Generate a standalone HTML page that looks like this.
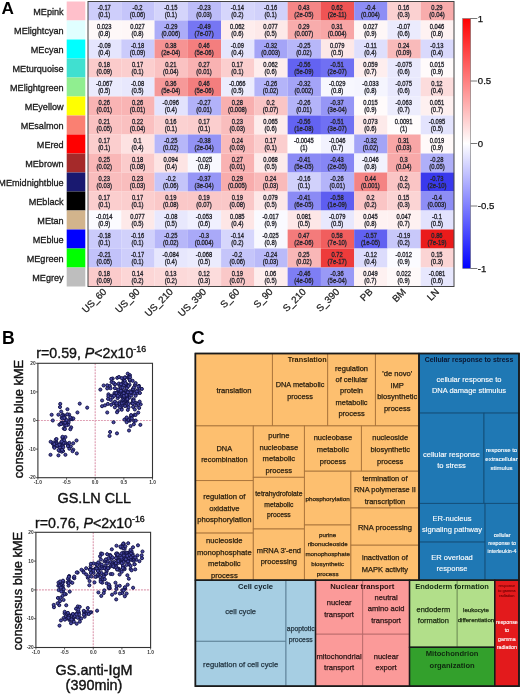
<!DOCTYPE html>
<html><head><meta charset="utf-8"><style>
html,body{margin:0;padding:0;background:#fff;}
svg{display:block;filter:blur(0.3px);}
text{font-family:"Liberation Sans", sans-serif;fill:#222;}
.big{font-size:16.5px;font-weight:bold;fill:#000;}
.rl{font-size:9.9px;text-anchor:end;fill:#1a1a1a;stroke:#1a1a1a;stroke-width:0.32px;}
.hv{font-size:6.9px;text-anchor:middle;fill:#26262e;stroke:#26262e;stroke-width:0.32px;}
.cl{font-size:9.7px;text-anchor:end;fill:#222;stroke:#222;stroke-width:0.25px;}
.tl{font-size:9.6px;fill:#111;stroke:#111;stroke-width:0.25px;}
.tk{font-size:4.8px;font-weight:bold;fill:#333;}
.tt{font-size:14.2px;fill:#111;stroke:#111;stroke-width:0.35px;}
.al{font-size:14.4px;fill:#111;stroke:#111;stroke-width:0.4px;}
.al2{font-size:12.0px;fill:#111;stroke:#111;stroke-width:0.4px;}
circle{fill:#4a4aa6;stroke:#121245;stroke-width:0.95;}
.tm{text-anchor:middle;fill:#2b2b2b;stroke:#2b2b2b;stroke-width:0.25px;}
.tw{text-anchor:middle;fill:#fff;stroke:#fff;stroke-width:0.12px;}
.gh{text-anchor:middle;font-weight:bold;}
</style></head><body>
<svg width="520" height="694" viewBox="0 0 520 694">
<rect width="520" height="694" fill="#fff"/>
<text x="1.6" y="13.9" class="big" style="font-size:17.2px">A</text>
<text transform="translate(63.6,14.60) scale(0.92,1)" class="rl">MEpink</text>
<rect x="66.7" y="1.50" width="18.6" height="19.0" fill="#ffc0cb"/>
<rect x="88.00" y="1.50" width="33.32" height="19.05" fill="rgb(206,206,251)"/>
<text transform="translate(104.24,9.80) scale(0.84,1)" class="hv">-0.17</text>
<text transform="translate(104.24,17.00) scale(0.86,1)" class="hv">(0.1)</text>
<rect x="121.27" y="1.50" width="33.32" height="19.05" fill="rgb(197,197,250)"/>
<text transform="translate(137.51,9.80) scale(0.84,1)" class="hv">-0.2</text>
<text transform="translate(137.51,17.00) scale(0.86,1)" class="hv">(0.06)</text>
<rect x="154.55" y="1.50" width="33.32" height="19.05" fill="rgb(212,212,251)"/>
<text transform="translate(170.78,9.80) scale(0.84,1)" class="hv">-0.15</text>
<text transform="translate(170.78,17.00) scale(0.86,1)" class="hv">(0.1)</text>
<rect x="187.82" y="1.50" width="33.32" height="19.05" fill="rgb(189,189,249)"/>
<text transform="translate(204.05,9.80) scale(0.84,1)" class="hv">-0.23</text>
<text transform="translate(204.05,17.00) scale(0.86,1)" class="hv">(0.03)</text>
<rect x="221.09" y="1.50" width="33.32" height="19.05" fill="rgb(214,214,252)"/>
<text transform="translate(237.33,9.80) scale(0.84,1)" class="hv">-0.14</text>
<text transform="translate(237.33,17.00) scale(0.86,1)" class="hv">(0.2)</text>
<rect x="254.36" y="1.50" width="33.32" height="19.05" fill="rgb(209,209,251)"/>
<text transform="translate(270.60,9.80) scale(0.84,1)" class="hv">-0.16</text>
<text transform="translate(270.60,17.00) scale(0.86,1)" class="hv">(0.1)</text>
<rect x="287.64" y="1.50" width="33.32" height="19.05" fill="rgb(245,134,134)"/>
<text transform="translate(303.87,9.80) scale(0.84,1)" class="hv">0.43</text>
<text transform="translate(303.87,17.00) scale(0.86,1)" class="hv">(2e-05)</text>
<rect x="320.91" y="1.50" width="33.32" height="19.05" fill="rgb(240,84,84)"/>
<text transform="translate(337.15,9.80) scale(0.84,1)" class="hv">0.62</text>
<text transform="translate(337.15,17.00) scale(0.86,1)" class="hv">(2e-11)</text>
<rect x="354.18" y="1.50" width="33.32" height="19.05" fill="rgb(142,142,245)"/>
<text transform="translate(370.42,9.80) scale(0.84,1)" class="hv">-0.4</text>
<text transform="translate(370.42,17.00) scale(0.86,1)" class="hv">(0.004)</text>
<rect x="387.45" y="1.50" width="33.32" height="19.05" fill="rgb(251,209,209)"/>
<text transform="translate(403.69,9.80) scale(0.84,1)" class="hv">0.16</text>
<text transform="translate(403.69,17.00) scale(0.86,1)" class="hv">(0.3)</text>
<rect x="420.73" y="1.50" width="33.32" height="19.05" fill="rgb(248,172,172)"/>
<text transform="translate(436.96,9.80) scale(0.84,1)" class="hv">0.29</text>
<text transform="translate(436.96,17.00) scale(0.86,1)" class="hv">(0.04)</text>
<text transform="translate(63.6,33.60) scale(0.92,1)" class="rl">MElightcyan</text>
<rect x="66.7" y="20.50" width="18.6" height="19.0" fill="#e0ffff"/>
<rect x="88.00" y="20.50" width="33.32" height="19.05" fill="rgb(254,248,248)"/>
<text transform="translate(104.24,28.80) scale(0.84,1)" class="hv">0.023</text>
<text transform="translate(104.24,36.00) scale(0.86,1)" class="hv">(0.8)</text>
<rect x="121.27" y="20.50" width="33.32" height="19.05" fill="rgb(254,247,247)"/>
<text transform="translate(137.51,28.80) scale(0.84,1)" class="hv">0.027</text>
<text transform="translate(137.51,36.00) scale(0.86,1)" class="hv">(0.8)</text>
<rect x="154.55" y="20.50" width="33.32" height="19.05" fill="rgb(172,172,248)"/>
<text transform="translate(170.78,28.80) scale(0.84,1)" class="hv">-0.29</text>
<text transform="translate(170.78,36.00) scale(0.86,1)" class="hv">(0.006)</text>
<rect x="187.82" y="20.50" width="33.32" height="19.05" fill="rgb(118,118,243)"/>
<text transform="translate(204.05,28.80) scale(0.84,1)" class="hv">-0.49</text>
<text transform="translate(204.05,36.00) scale(0.86,1)" class="hv">(7e-07)</text>
<rect x="221.09" y="20.50" width="33.32" height="19.05" fill="rgb(254,237,237)"/>
<text transform="translate(237.33,28.80) scale(0.84,1)" class="hv">0.062</text>
<text transform="translate(237.33,36.00) scale(0.86,1)" class="hv">(0.6)</text>
<rect x="254.36" y="20.50" width="33.32" height="19.05" fill="rgb(253,233,233)"/>
<text transform="translate(270.60,28.80) scale(0.84,1)" class="hv">0.077</text>
<text transform="translate(270.60,36.00) scale(0.86,1)" class="hv">(0.5)</text>
<rect x="287.64" y="20.50" width="33.32" height="19.05" fill="rgb(248,172,172)"/>
<text transform="translate(303.87,28.80) scale(0.84,1)" class="hv">0.29</text>
<text transform="translate(303.87,36.00) scale(0.86,1)" class="hv">(0.007)</text>
<rect x="320.91" y="20.50" width="33.32" height="19.05" fill="rgb(248,166,166)"/>
<text transform="translate(337.15,28.80) scale(0.84,1)" class="hv">0.31</text>
<text transform="translate(337.15,36.00) scale(0.86,1)" class="hv">(0.004)</text>
<rect x="354.18" y="20.50" width="33.32" height="19.05" fill="rgb(254,247,247)"/>
<text transform="translate(370.42,28.80) scale(0.84,1)" class="hv">0.027</text>
<text transform="translate(370.42,36.00) scale(0.86,1)" class="hv">(0.9)</text>
<rect x="387.45" y="20.50" width="33.32" height="19.05" fill="rgb(235,235,253)"/>
<text transform="translate(403.69,28.80) scale(0.84,1)" class="hv">-0.07</text>
<text transform="translate(403.69,36.00) scale(0.86,1)" class="hv">(0.6)</text>
<rect x="420.73" y="20.50" width="33.32" height="19.05" fill="rgb(254,242,242)"/>
<text transform="translate(436.96,28.80) scale(0.84,1)" class="hv">0.046</text>
<text transform="translate(436.96,36.00) scale(0.86,1)" class="hv">(0.8)</text>
<text transform="translate(63.6,52.60) scale(0.92,1)" class="rl">MEcyan</text>
<rect x="66.7" y="39.50" width="18.6" height="19.0" fill="#00ffff"/>
<rect x="88.00" y="39.50" width="33.32" height="19.05" fill="rgb(229,229,253)"/>
<text transform="translate(104.24,47.80) scale(0.84,1)" class="hv">-0.09</text>
<text transform="translate(104.24,55.00) scale(0.86,1)" class="hv">(0.4)</text>
<rect x="121.27" y="39.50" width="33.32" height="19.05" fill="rgb(203,203,251)"/>
<text transform="translate(137.51,47.80) scale(0.84,1)" class="hv">-0.18</text>
<text transform="translate(137.51,55.00) scale(0.86,1)" class="hv">(0.09)</text>
<rect x="154.55" y="39.50" width="33.32" height="19.05" fill="rgb(246,147,147)"/>
<text transform="translate(170.78,47.80) scale(0.84,1)" class="hv">0.38</text>
<text transform="translate(170.78,55.00) scale(0.86,1)" class="hv">(2e-04)</text>
<rect x="187.82" y="39.50" width="33.32" height="19.05" fill="rgb(244,126,126)"/>
<text transform="translate(204.05,47.80) scale(0.84,1)" class="hv">0.46</text>
<text transform="translate(204.05,55.00) scale(0.86,1)" class="hv">(5e-06)</text>
<rect x="221.09" y="39.50" width="33.32" height="19.05" fill="rgb(229,229,253)"/>
<text transform="translate(237.33,47.80) scale(0.84,1)" class="hv">-0.09</text>
<text transform="translate(237.33,55.00) scale(0.86,1)" class="hv">(0.4)</text>
<rect x="254.36" y="39.50" width="33.32" height="19.05" fill="rgb(164,164,247)"/>
<text transform="translate(270.60,47.80) scale(0.84,1)" class="hv">-0.32</text>
<text transform="translate(270.60,55.00) scale(0.86,1)" class="hv">(0.003)</text>
<rect x="287.64" y="39.50" width="33.32" height="19.05" fill="rgb(183,183,249)"/>
<text transform="translate(303.87,47.80) scale(0.84,1)" class="hv">-0.25</text>
<text transform="translate(303.87,55.00) scale(0.86,1)" class="hv">(0.02)</text>
<rect x="320.91" y="39.50" width="33.32" height="19.05" fill="rgb(253,232,232)"/>
<text transform="translate(337.15,47.80) scale(0.84,1)" class="hv">0.079</text>
<text transform="translate(337.15,55.00) scale(0.86,1)" class="hv">(0.5)</text>
<rect x="354.18" y="39.50" width="33.32" height="19.05" fill="rgb(223,223,252)"/>
<text transform="translate(370.42,47.80) scale(0.84,1)" class="hv">-0.11</text>
<text transform="translate(370.42,55.00) scale(0.86,1)" class="hv">(0.4)</text>
<rect x="387.45" y="39.50" width="33.32" height="19.05" fill="rgb(249,186,186)"/>
<text transform="translate(403.69,47.80) scale(0.84,1)" class="hv">0.24</text>
<text transform="translate(403.69,55.00) scale(0.86,1)" class="hv">(0.09)</text>
<rect x="420.73" y="39.50" width="33.32" height="19.05" fill="rgb(217,217,252)"/>
<text transform="translate(436.96,47.80) scale(0.84,1)" class="hv">-0.13</text>
<text transform="translate(436.96,55.00) scale(0.86,1)" class="hv">(0.4)</text>
<text transform="translate(63.6,71.60) scale(0.92,1)" class="rl">MEturquoise</text>
<rect x="66.7" y="58.50" width="18.6" height="19.0" fill="#40e0d0"/>
<rect x="88.00" y="58.50" width="33.32" height="19.05" fill="rgb(251,203,203)"/>
<text transform="translate(104.24,66.80) scale(0.84,1)" class="hv">0.18</text>
<text transform="translate(104.24,74.00) scale(0.86,1)" class="hv">(0.09)</text>
<rect x="121.27" y="58.50" width="33.32" height="19.05" fill="rgb(251,206,206)"/>
<text transform="translate(137.51,66.80) scale(0.84,1)" class="hv">0.17</text>
<text transform="translate(137.51,74.00) scale(0.86,1)" class="hv">(0.1)</text>
<rect x="154.55" y="58.50" width="33.32" height="19.05" fill="rgb(250,194,194)"/>
<text transform="translate(170.78,66.80) scale(0.84,1)" class="hv">0.21</text>
<text transform="translate(170.78,74.00) scale(0.86,1)" class="hv">(0.04)</text>
<rect x="187.82" y="58.50" width="33.32" height="19.05" fill="rgb(249,178,178)"/>
<text transform="translate(204.05,66.80) scale(0.84,1)" class="hv">0.27</text>
<text transform="translate(204.05,74.00) scale(0.86,1)" class="hv">(0.01)</text>
<rect x="221.09" y="58.50" width="33.32" height="19.05" fill="rgb(251,206,206)"/>
<text transform="translate(237.33,66.80) scale(0.84,1)" class="hv">0.17</text>
<text transform="translate(237.33,74.00) scale(0.86,1)" class="hv">(0.1)</text>
<rect x="254.36" y="58.50" width="33.32" height="19.05" fill="rgb(254,237,237)"/>
<text transform="translate(270.60,66.80) scale(0.84,1)" class="hv">0.062</text>
<text transform="translate(270.60,74.00) scale(0.86,1)" class="hv">(0.6)</text>
<rect x="287.64" y="58.50" width="33.32" height="19.05" fill="rgb(99,99,242)"/>
<text transform="translate(303.87,66.80) scale(0.84,1)" class="hv">-0.56</text>
<text transform="translate(303.87,74.00) scale(0.86,1)" class="hv">(5e-09)</text>
<rect x="320.91" y="58.50" width="33.32" height="19.05" fill="rgb(112,112,243)"/>
<text transform="translate(337.15,66.80) scale(0.84,1)" class="hv">-0.51</text>
<text transform="translate(337.15,74.00) scale(0.86,1)" class="hv">(2e-07)</text>
<rect x="354.18" y="58.50" width="33.32" height="19.05" fill="rgb(254,238,238)"/>
<text transform="translate(370.42,66.80) scale(0.84,1)" class="hv">0.059</text>
<text transform="translate(370.42,74.00) scale(0.86,1)" class="hv">(0.7)</text>
<rect x="387.45" y="58.50" width="33.32" height="19.05" fill="rgb(233,233,253)"/>
<text transform="translate(403.69,66.80) scale(0.84,1)" class="hv">-0.075</text>
<text transform="translate(403.69,74.00) scale(0.86,1)" class="hv">(0.6)</text>
<rect x="420.73" y="58.50" width="33.32" height="19.05" fill="rgb(255,251,251)"/>
<text transform="translate(436.96,66.80) scale(0.84,1)" class="hv">0.015</text>
<text transform="translate(436.96,74.00) scale(0.86,1)" class="hv">(0.9)</text>
<text transform="translate(63.6,90.60) scale(0.92,1)" class="rl">MElightgreen</text>
<rect x="66.7" y="77.50" width="18.6" height="19.0" fill="#90ee90"/>
<rect x="88.00" y="77.50" width="33.32" height="19.05" fill="rgb(235,235,253)"/>
<text transform="translate(104.24,85.80) scale(0.84,1)" class="hv">-0.067</text>
<text transform="translate(104.24,93.00) scale(0.86,1)" class="hv">(0.5)</text>
<rect x="121.27" y="77.50" width="33.32" height="19.05" fill="rgb(232,232,253)"/>
<text transform="translate(137.51,85.80) scale(0.84,1)" class="hv">-0.08</text>
<text transform="translate(137.51,93.00) scale(0.86,1)" class="hv">(0.5)</text>
<rect x="154.55" y="77.50" width="33.32" height="19.05" fill="rgb(246,153,153)"/>
<text transform="translate(170.78,85.80) scale(0.84,1)" class="hv">0.36</text>
<text transform="translate(170.78,93.00) scale(0.86,1)" class="hv">(5e-04)</text>
<rect x="187.82" y="77.50" width="33.32" height="19.05" fill="rgb(244,126,126)"/>
<text transform="translate(204.05,85.80) scale(0.84,1)" class="hv">0.46</text>
<text transform="translate(204.05,93.00) scale(0.86,1)" class="hv">(5e-06)</text>
<rect x="221.09" y="77.50" width="33.32" height="19.05" fill="rgb(236,236,253)"/>
<text transform="translate(237.33,85.80) scale(0.84,1)" class="hv">-0.066</text>
<text transform="translate(237.33,93.00) scale(0.86,1)" class="hv">(0.5)</text>
<rect x="254.36" y="77.50" width="33.32" height="19.05" fill="rgb(180,180,249)"/>
<text transform="translate(270.60,85.80) scale(0.84,1)" class="hv">-0.26</text>
<text transform="translate(270.60,93.00) scale(0.86,1)" class="hv">(0.02)</text>
<rect x="287.64" y="77.50" width="33.32" height="19.05" fill="rgb(164,164,247)"/>
<text transform="translate(303.87,85.80) scale(0.84,1)" class="hv">-0.32</text>
<text transform="translate(303.87,93.00) scale(0.86,1)" class="hv">(0.002)</text>
<rect x="320.91" y="77.50" width="33.32" height="19.05" fill="rgb(247,247,254)"/>
<text transform="translate(337.15,85.80) scale(0.84,1)" class="hv">-0.029</text>
<text transform="translate(337.15,93.00) scale(0.86,1)" class="hv">(0.8)</text>
<rect x="354.18" y="77.50" width="33.32" height="19.05" fill="rgb(245,245,254)"/>
<text transform="translate(370.42,85.80) scale(0.84,1)" class="hv">-0.033</text>
<text transform="translate(370.42,93.00) scale(0.86,1)" class="hv">(0.8)</text>
<rect x="387.45" y="77.50" width="33.32" height="19.05" fill="rgb(233,233,253)"/>
<text transform="translate(403.69,85.80) scale(0.84,1)" class="hv">-0.075</text>
<text transform="translate(403.69,93.00) scale(0.86,1)" class="hv">(0.6)</text>
<rect x="420.73" y="77.50" width="33.32" height="19.05" fill="rgb(252,220,220)"/>
<text transform="translate(436.96,85.80) scale(0.84,1)" class="hv">0.12</text>
<text transform="translate(436.96,93.00) scale(0.86,1)" class="hv">(0.4)</text>
<text transform="translate(63.6,109.60) scale(0.92,1)" class="rl">MEyellow</text>
<rect x="66.7" y="96.50" width="18.6" height="19.0" fill="#ffff00"/>
<rect x="88.00" y="96.50" width="33.32" height="19.05" fill="rgb(249,180,180)"/>
<text transform="translate(104.24,104.80) scale(0.84,1)" class="hv">0.26</text>
<text transform="translate(104.24,112.00) scale(0.86,1)" class="hv">(0.01)</text>
<rect x="121.27" y="96.50" width="33.32" height="19.05" fill="rgb(249,180,180)"/>
<text transform="translate(137.51,104.80) scale(0.84,1)" class="hv">0.26</text>
<text transform="translate(137.51,112.00) scale(0.86,1)" class="hv">(0.01)</text>
<rect x="154.55" y="96.50" width="33.32" height="19.05" fill="rgb(227,227,253)"/>
<text transform="translate(170.78,104.80) scale(0.84,1)" class="hv">-0.096</text>
<text transform="translate(170.78,112.00) scale(0.86,1)" class="hv">(0.4)</text>
<rect x="187.82" y="96.50" width="33.32" height="19.05" fill="rgb(178,178,249)"/>
<text transform="translate(204.05,104.80) scale(0.84,1)" class="hv">-0.27</text>
<text transform="translate(204.05,112.00) scale(0.86,1)" class="hv">(0.01)</text>
<rect x="221.09" y="96.50" width="33.32" height="19.05" fill="rgb(248,175,175)"/>
<text transform="translate(237.33,104.80) scale(0.84,1)" class="hv">0.28</text>
<text transform="translate(237.33,112.00) scale(0.86,1)" class="hv">(0.008)</text>
<rect x="254.36" y="96.50" width="33.32" height="19.05" fill="rgb(250,197,197)"/>
<text transform="translate(270.60,104.80) scale(0.84,1)" class="hv">0.2</text>
<text transform="translate(270.60,112.00) scale(0.86,1)" class="hv">(0.07)</text>
<rect x="287.64" y="96.50" width="33.32" height="19.05" fill="rgb(180,180,249)"/>
<text transform="translate(303.87,104.80) scale(0.84,1)" class="hv">-0.26</text>
<text transform="translate(303.87,112.00) scale(0.86,1)" class="hv">(0.01)</text>
<rect x="320.91" y="96.50" width="33.32" height="19.05" fill="rgb(150,150,246)"/>
<text transform="translate(337.15,104.80) scale(0.84,1)" class="hv">-0.37</text>
<text transform="translate(337.15,112.00) scale(0.86,1)" class="hv">(3e-04)</text>
<rect x="354.18" y="96.50" width="33.32" height="19.05" fill="rgb(255,251,251)"/>
<text transform="translate(370.42,104.80) scale(0.84,1)" class="hv">0.015</text>
<text transform="translate(370.42,112.00) scale(0.86,1)" class="hv">(0.9)</text>
<rect x="387.45" y="96.50" width="33.32" height="19.05" fill="rgb(237,237,253)"/>
<text transform="translate(403.69,104.80) scale(0.84,1)" class="hv">-0.063</text>
<text transform="translate(403.69,112.00) scale(0.86,1)" class="hv">(0.7)</text>
<rect x="420.73" y="96.50" width="33.32" height="19.05" fill="rgb(254,240,240)"/>
<text transform="translate(436.96,104.80) scale(0.84,1)" class="hv">0.051</text>
<text transform="translate(436.96,112.00) scale(0.86,1)" class="hv">(0.7)</text>
<text transform="translate(63.6,128.60) scale(0.92,1)" class="rl">MEsalmon</text>
<rect x="66.7" y="115.50" width="18.6" height="19.0" fill="#fa8072"/>
<rect x="88.00" y="115.50" width="33.32" height="19.05" fill="rgb(250,194,194)"/>
<text transform="translate(104.24,123.80) scale(0.84,1)" class="hv">0.21</text>
<text transform="translate(104.24,131.00) scale(0.86,1)" class="hv">(0.05)</text>
<rect x="121.27" y="115.50" width="33.32" height="19.05" fill="rgb(250,192,192)"/>
<text transform="translate(137.51,123.80) scale(0.84,1)" class="hv">0.22</text>
<text transform="translate(137.51,131.00) scale(0.86,1)" class="hv">(0.04)</text>
<rect x="154.55" y="115.50" width="33.32" height="19.05" fill="rgb(251,209,209)"/>
<text transform="translate(170.78,123.80) scale(0.84,1)" class="hv">0.16</text>
<text transform="translate(170.78,131.00) scale(0.86,1)" class="hv">(0.1)</text>
<rect x="187.82" y="115.50" width="33.32" height="19.05" fill="rgb(251,206,206)"/>
<text transform="translate(204.05,123.80) scale(0.84,1)" class="hv">0.17</text>
<text transform="translate(204.05,131.00) scale(0.86,1)" class="hv">(0.1)</text>
<rect x="221.09" y="115.50" width="33.32" height="19.05" fill="rgb(249,189,189)"/>
<text transform="translate(237.33,123.80) scale(0.84,1)" class="hv">0.23</text>
<text transform="translate(237.33,131.00) scale(0.86,1)" class="hv">(0.03)</text>
<rect x="254.36" y="115.50" width="33.32" height="19.05" fill="rgb(253,236,236)"/>
<text transform="translate(270.60,123.80) scale(0.84,1)" class="hv">0.065</text>
<text transform="translate(270.60,131.00) scale(0.86,1)" class="hv">(0.6)</text>
<rect x="287.64" y="115.50" width="33.32" height="19.05" fill="rgb(99,99,242)"/>
<text transform="translate(303.87,123.80) scale(0.84,1)" class="hv">-0.56</text>
<text transform="translate(303.87,131.00) scale(0.86,1)" class="hv">(1e-08)</text>
<rect x="320.91" y="115.50" width="33.32" height="19.05" fill="rgb(112,112,243)"/>
<text transform="translate(337.15,123.80) scale(0.84,1)" class="hv">-0.51</text>
<text transform="translate(337.15,131.00) scale(0.86,1)" class="hv">(3e-07)</text>
<rect x="354.18" y="115.50" width="33.32" height="19.05" fill="rgb(253,234,234)"/>
<text transform="translate(370.42,123.80) scale(0.84,1)" class="hv">0.073</text>
<text transform="translate(370.42,131.00) scale(0.86,1)" class="hv">(0.6)</text>
<rect x="387.45" y="115.50" width="33.32" height="19.05" fill="rgb(255,252,252)"/>
<text transform="translate(403.69,123.80) scale(0.84,1)" class="hv">0.0091</text>
<text transform="translate(403.69,131.00) scale(0.86,1)" class="hv">(1)</text>
<rect x="420.73" y="115.50" width="33.32" height="19.05" fill="rgb(227,227,253)"/>
<text transform="translate(436.96,123.80) scale(0.84,1)" class="hv">-0.095</text>
<text transform="translate(436.96,131.00) scale(0.86,1)" class="hv">(0.5)</text>
<text transform="translate(63.6,147.60) scale(0.92,1)" class="rl">MEred</text>
<rect x="66.7" y="134.50" width="18.6" height="19.0" fill="#ff0000"/>
<rect x="88.00" y="134.50" width="33.32" height="19.05" fill="rgb(251,206,206)"/>
<text transform="translate(104.24,142.80) scale(0.84,1)" class="hv">0.17</text>
<text transform="translate(104.24,150.00) scale(0.86,1)" class="hv">(0.1)</text>
<rect x="121.27" y="134.50" width="33.32" height="19.05" fill="rgb(253,226,226)"/>
<text transform="translate(137.51,142.80) scale(0.84,1)" class="hv">0.1</text>
<text transform="translate(137.51,150.00) scale(0.86,1)" class="hv">(0.4)</text>
<rect x="154.55" y="134.50" width="33.32" height="19.05" fill="rgb(183,183,249)"/>
<text transform="translate(170.78,142.80) scale(0.84,1)" class="hv">-0.25</text>
<text transform="translate(170.78,150.00) scale(0.86,1)" class="hv">(0.02)</text>
<rect x="187.82" y="134.50" width="33.32" height="19.05" fill="rgb(147,147,246)"/>
<text transform="translate(204.05,142.80) scale(0.84,1)" class="hv">-0.38</text>
<text transform="translate(204.05,150.00) scale(0.86,1)" class="hv">(2e-04)</text>
<rect x="221.09" y="134.50" width="33.32" height="19.05" fill="rgb(249,186,186)"/>
<text transform="translate(237.33,142.80) scale(0.84,1)" class="hv">0.24</text>
<text transform="translate(237.33,150.00) scale(0.86,1)" class="hv">(0.03)</text>
<rect x="254.36" y="134.50" width="33.32" height="19.05" fill="rgb(251,206,206)"/>
<text transform="translate(270.60,142.80) scale(0.84,1)" class="hv">0.17</text>
<text transform="translate(270.60,150.00) scale(0.86,1)" class="hv">(0.1)</text>
<rect x="287.64" y="134.50" width="33.32" height="19.05" fill="rgb(254,254,255)"/>
<text transform="translate(303.87,142.80) scale(0.84,1)" class="hv">-0.0045</text>
<text transform="translate(303.87,150.00) scale(0.86,1)" class="hv">(1)</text>
<rect x="320.91" y="134.50" width="33.32" height="19.05" fill="rgb(242,242,254)"/>
<text transform="translate(337.15,142.80) scale(0.84,1)" class="hv">-0.046</text>
<text transform="translate(337.15,150.00) scale(0.86,1)" class="hv">(0.7)</text>
<rect x="354.18" y="134.50" width="33.32" height="19.05" fill="rgb(164,164,247)"/>
<text transform="translate(370.42,142.80) scale(0.84,1)" class="hv">-0.32</text>
<text transform="translate(370.42,150.00) scale(0.86,1)" class="hv">(0.02)</text>
<rect x="387.45" y="134.50" width="33.32" height="19.05" fill="rgb(248,166,166)"/>
<text transform="translate(403.69,142.80) scale(0.84,1)" class="hv">0.31</text>
<text transform="translate(403.69,150.00) scale(0.86,1)" class="hv">(0.03)</text>
<rect x="420.73" y="134.50" width="33.32" height="19.05" fill="rgb(255,249,249)"/>
<text transform="translate(436.96,142.80) scale(0.84,1)" class="hv">0.019</text>
<text transform="translate(436.96,150.00) scale(0.86,1)" class="hv">(0.9)</text>
<text transform="translate(63.6,166.60) scale(0.92,1)" class="rl">MEbrown</text>
<rect x="66.7" y="153.50" width="18.6" height="19.0" fill="#a52a2a"/>
<rect x="88.00" y="153.50" width="33.32" height="19.05" fill="rgb(249,183,183)"/>
<text transform="translate(104.24,161.80) scale(0.84,1)" class="hv">0.25</text>
<text transform="translate(104.24,169.00) scale(0.86,1)" class="hv">(0.02)</text>
<rect x="121.27" y="153.50" width="33.32" height="19.05" fill="rgb(251,203,203)"/>
<text transform="translate(137.51,161.80) scale(0.84,1)" class="hv">0.18</text>
<text transform="translate(137.51,169.00) scale(0.86,1)" class="hv">(0.08)</text>
<rect x="154.55" y="153.50" width="33.32" height="19.05" fill="rgb(253,228,228)"/>
<text transform="translate(170.78,161.80) scale(0.84,1)" class="hv">0.094</text>
<text transform="translate(170.78,169.00) scale(0.86,1)" class="hv">(0.4)</text>
<rect x="187.82" y="153.50" width="33.32" height="19.05" fill="rgb(248,248,254)"/>
<text transform="translate(204.05,161.80) scale(0.84,1)" class="hv">-0.025</text>
<text transform="translate(204.05,169.00) scale(0.86,1)" class="hv">(0.8)</text>
<rect x="221.09" y="153.50" width="33.32" height="19.05" fill="rgb(249,178,178)"/>
<text transform="translate(237.33,161.80) scale(0.84,1)" class="hv">0.27</text>
<text transform="translate(237.33,169.00) scale(0.86,1)" class="hv">(0.01)</text>
<rect x="254.36" y="153.50" width="33.32" height="19.05" fill="rgb(253,235,235)"/>
<text transform="translate(270.60,161.80) scale(0.84,1)" class="hv">0.068</text>
<text transform="translate(270.60,169.00) scale(0.86,1)" class="hv">(0.5)</text>
<rect x="287.64" y="153.50" width="33.32" height="19.05" fill="rgb(139,139,245)"/>
<text transform="translate(303.87,161.80) scale(0.84,1)" class="hv">-0.41</text>
<text transform="translate(303.87,169.00) scale(0.86,1)" class="hv">(5e-05)</text>
<rect x="320.91" y="153.50" width="33.32" height="19.05" fill="rgb(134,134,245)"/>
<text transform="translate(337.15,161.80) scale(0.84,1)" class="hv">-0.43</text>
<text transform="translate(337.15,169.00) scale(0.86,1)" class="hv">(2e-05)</text>
<rect x="354.18" y="153.50" width="33.32" height="19.05" fill="rgb(242,242,254)"/>
<text transform="translate(370.42,161.80) scale(0.84,1)" class="hv">-0.046</text>
<text transform="translate(370.42,169.00) scale(0.86,1)" class="hv">(0.8)</text>
<rect x="387.45" y="153.50" width="33.32" height="19.05" fill="rgb(248,169,169)"/>
<text transform="translate(403.69,161.80) scale(0.84,1)" class="hv">0.3</text>
<text transform="translate(403.69,169.00) scale(0.86,1)" class="hv">(0.04)</text>
<rect x="420.73" y="153.50" width="33.32" height="19.05" fill="rgb(175,175,248)"/>
<text transform="translate(436.96,161.80) scale(0.84,1)" class="hv">-0.28</text>
<text transform="translate(436.96,169.00) scale(0.86,1)" class="hv">(0.05)</text>
<text transform="translate(63.6,185.60) scale(0.92,1)" class="rl">MEmidnightblue</text>
<rect x="66.7" y="172.50" width="18.6" height="19.0" fill="#191970"/>
<rect x="88.00" y="172.50" width="33.32" height="19.05" fill="rgb(249,189,189)"/>
<text transform="translate(104.24,180.80) scale(0.84,1)" class="hv">0.23</text>
<text transform="translate(104.24,188.00) scale(0.86,1)" class="hv">(0.03)</text>
<rect x="121.27" y="172.50" width="33.32" height="19.05" fill="rgb(249,189,189)"/>
<text transform="translate(137.51,180.80) scale(0.84,1)" class="hv">0.23</text>
<text transform="translate(137.51,188.00) scale(0.86,1)" class="hv">(0.03)</text>
<rect x="154.55" y="172.50" width="33.32" height="19.05" fill="rgb(197,197,250)"/>
<text transform="translate(170.78,180.80) scale(0.84,1)" class="hv">-0.2</text>
<text transform="translate(170.78,188.00) scale(0.86,1)" class="hv">(0.06)</text>
<rect x="187.82" y="172.50" width="33.32" height="19.05" fill="rgb(150,150,246)"/>
<text transform="translate(204.05,180.80) scale(0.84,1)" class="hv">-0.37</text>
<text transform="translate(204.05,188.00) scale(0.86,1)" class="hv">(3e-04)</text>
<rect x="221.09" y="172.50" width="33.32" height="19.05" fill="rgb(248,172,172)"/>
<text transform="translate(237.33,180.80) scale(0.84,1)" class="hv">0.29</text>
<text transform="translate(237.33,188.00) scale(0.86,1)" class="hv">(0.005)</text>
<rect x="254.36" y="172.50" width="33.32" height="19.05" fill="rgb(249,186,186)"/>
<text transform="translate(270.60,180.80) scale(0.84,1)" class="hv">0.24</text>
<text transform="translate(270.60,188.00) scale(0.86,1)" class="hv">(0.03)</text>
<rect x="287.64" y="172.50" width="33.32" height="19.05" fill="rgb(209,209,251)"/>
<text transform="translate(303.87,180.80) scale(0.84,1)" class="hv">-0.16</text>
<text transform="translate(303.87,188.00) scale(0.86,1)" class="hv">(0.1)</text>
<rect x="320.91" y="172.50" width="33.32" height="19.05" fill="rgb(180,180,249)"/>
<text transform="translate(337.15,180.80) scale(0.84,1)" class="hv">-0.26</text>
<text transform="translate(337.15,188.00) scale(0.86,1)" class="hv">(0.01)</text>
<rect x="354.18" y="172.50" width="33.32" height="19.05" fill="rgb(244,131,131)"/>
<text transform="translate(370.42,180.80) scale(0.84,1)" class="hv">0.44</text>
<text transform="translate(370.42,188.00) scale(0.86,1)" class="hv">(0.001)</text>
<rect x="387.45" y="172.50" width="33.32" height="19.05" fill="rgb(250,197,197)"/>
<text transform="translate(403.69,180.80) scale(0.84,1)" class="hv">0.2</text>
<text transform="translate(403.69,188.00) scale(0.86,1)" class="hv">(0.2)</text>
<rect x="420.73" y="172.50" width="33.32" height="19.05" fill="rgb(57,57,237)"/>
<text transform="translate(436.96,180.80) scale(0.84,1)" class="hv">-0.73</text>
<text transform="translate(436.96,188.00) scale(0.86,1)" class="hv">(2e-10)</text>
<text transform="translate(63.6,204.60) scale(0.92,1)" class="rl">MEblack</text>
<rect x="66.7" y="191.50" width="18.6" height="19.0" fill="#000000"/>
<rect x="88.00" y="191.50" width="33.32" height="19.05" fill="rgb(251,206,206)"/>
<text transform="translate(104.24,199.80) scale(0.84,1)" class="hv">0.17</text>
<text transform="translate(104.24,207.00) scale(0.86,1)" class="hv">(0.1)</text>
<rect x="121.27" y="191.50" width="33.32" height="19.05" fill="rgb(251,206,206)"/>
<text transform="translate(137.51,199.80) scale(0.84,1)" class="hv">0.17</text>
<text transform="translate(137.51,207.00) scale(0.86,1)" class="hv">(0.1)</text>
<rect x="154.55" y="191.50" width="33.32" height="19.05" fill="rgb(250,200,200)"/>
<text transform="translate(170.78,199.80) scale(0.84,1)" class="hv">0.19</text>
<text transform="translate(170.78,207.00) scale(0.86,1)" class="hv">(0.08)</text>
<rect x="187.82" y="191.50" width="33.32" height="19.05" fill="rgb(250,200,200)"/>
<text transform="translate(204.05,199.80) scale(0.84,1)" class="hv">0.19</text>
<text transform="translate(204.05,207.00) scale(0.86,1)" class="hv">(0.07)</text>
<rect x="221.09" y="191.50" width="33.32" height="19.05" fill="rgb(250,200,200)"/>
<text transform="translate(237.33,199.80) scale(0.84,1)" class="hv">0.19</text>
<text transform="translate(237.33,207.00) scale(0.86,1)" class="hv">(0.08)</text>
<rect x="254.36" y="191.50" width="33.32" height="19.05" fill="rgb(253,232,232)"/>
<text transform="translate(270.60,199.80) scale(0.84,1)" class="hv">0.079</text>
<text transform="translate(270.60,207.00) scale(0.86,1)" class="hv">(0.5)</text>
<rect x="287.64" y="191.50" width="33.32" height="19.05" fill="rgb(139,139,245)"/>
<text transform="translate(303.87,199.80) scale(0.84,1)" class="hv">-0.41</text>
<text transform="translate(303.87,207.00) scale(0.86,1)" class="hv">(6e-05)</text>
<rect x="320.91" y="191.50" width="33.32" height="19.05" fill="rgb(94,94,241)"/>
<text transform="translate(337.15,199.80) scale(0.84,1)" class="hv">-0.58</text>
<text transform="translate(337.15,207.00) scale(0.86,1)" class="hv">(1e-09)</text>
<rect x="354.18" y="191.50" width="33.32" height="19.05" fill="rgb(250,197,197)"/>
<text transform="translate(370.42,199.80) scale(0.84,1)" class="hv">0.2</text>
<text transform="translate(370.42,207.00) scale(0.86,1)" class="hv">(0.2)</text>
<rect x="387.45" y="191.50" width="33.32" height="19.05" fill="rgb(251,212,212)"/>
<text transform="translate(403.69,199.80) scale(0.84,1)" class="hv">0.15</text>
<text transform="translate(403.69,207.00) scale(0.86,1)" class="hv">(0.3)</text>
<rect x="420.73" y="191.50" width="33.32" height="19.05" fill="rgb(142,142,245)"/>
<text transform="translate(436.96,199.80) scale(0.84,1)" class="hv">-0.4</text>
<text transform="translate(436.96,207.00) scale(0.86,1)" class="hv">(0.003)</text>
<text transform="translate(63.6,223.60) scale(0.92,1)" class="rl">MEtan</text>
<rect x="66.7" y="210.50" width="18.6" height="19.0" fill="#d2b48c"/>
<rect x="88.00" y="210.50" width="33.32" height="19.05" fill="rgb(251,251,255)"/>
<text transform="translate(104.24,218.80) scale(0.84,1)" class="hv">-0.014</text>
<text transform="translate(104.24,226.00) scale(0.86,1)" class="hv">(0.9)</text>
<rect x="121.27" y="210.50" width="33.32" height="19.05" fill="rgb(253,233,233)"/>
<text transform="translate(137.51,218.80) scale(0.84,1)" class="hv">0.077</text>
<text transform="translate(137.51,226.00) scale(0.86,1)" class="hv">(0.5)</text>
<rect x="154.55" y="210.50" width="33.32" height="19.05" fill="rgb(232,232,253)"/>
<text transform="translate(170.78,218.80) scale(0.84,1)" class="hv">-0.08</text>
<text transform="translate(170.78,226.00) scale(0.86,1)" class="hv">(0.5)</text>
<rect x="187.82" y="210.50" width="33.32" height="19.05" fill="rgb(240,240,254)"/>
<text transform="translate(204.05,218.80) scale(0.84,1)" class="hv">-0.053</text>
<text transform="translate(204.05,226.00) scale(0.86,1)" class="hv">(0.6)</text>
<rect x="221.09" y="210.50" width="33.32" height="19.05" fill="rgb(253,230,230)"/>
<text transform="translate(237.33,218.80) scale(0.84,1)" class="hv">0.085</text>
<text transform="translate(237.33,226.00) scale(0.86,1)" class="hv">(0.4)</text>
<rect x="254.36" y="210.50" width="33.32" height="19.05" fill="rgb(250,250,255)"/>
<text transform="translate(270.60,218.80) scale(0.84,1)" class="hv">-0.017</text>
<text transform="translate(270.60,226.00) scale(0.86,1)" class="hv">(0.9)</text>
<rect x="287.64" y="210.50" width="33.32" height="19.05" fill="rgb(253,231,231)"/>
<text transform="translate(303.87,218.80) scale(0.84,1)" class="hv">0.081</text>
<text transform="translate(303.87,226.00) scale(0.86,1)" class="hv">(0.5)</text>
<rect x="320.91" y="210.50" width="33.32" height="19.05" fill="rgb(232,232,253)"/>
<text transform="translate(337.15,218.80) scale(0.84,1)" class="hv">-0.079</text>
<text transform="translate(337.15,226.00) scale(0.86,1)" class="hv">(0.5)</text>
<rect x="354.18" y="210.50" width="33.32" height="19.05" fill="rgb(254,242,242)"/>
<text transform="translate(370.42,218.80) scale(0.84,1)" class="hv">0.045</text>
<text transform="translate(370.42,226.00) scale(0.86,1)" class="hv">(0.8)</text>
<rect x="387.45" y="210.50" width="33.32" height="19.05" fill="rgb(254,241,241)"/>
<text transform="translate(403.69,218.80) scale(0.84,1)" class="hv">0.047</text>
<text transform="translate(403.69,226.00) scale(0.86,1)" class="hv">(0.7)</text>
<rect x="420.73" y="210.50" width="33.32" height="19.05" fill="rgb(226,226,253)"/>
<text transform="translate(436.96,218.80) scale(0.84,1)" class="hv">-0.1</text>
<text transform="translate(436.96,226.00) scale(0.86,1)" class="hv">(0.5)</text>
<text transform="translate(63.6,242.60) scale(0.92,1)" class="rl">MEblue</text>
<rect x="66.7" y="229.50" width="18.6" height="19.0" fill="#0000ff"/>
<rect x="88.00" y="229.50" width="33.32" height="19.05" fill="rgb(203,203,251)"/>
<text transform="translate(104.24,237.80) scale(0.84,1)" class="hv">-0.18</text>
<text transform="translate(104.24,245.00) scale(0.86,1)" class="hv">(0.1)</text>
<rect x="121.27" y="229.50" width="33.32" height="19.05" fill="rgb(209,209,251)"/>
<text transform="translate(137.51,237.80) scale(0.84,1)" class="hv">-0.16</text>
<text transform="translate(137.51,245.00) scale(0.86,1)" class="hv">(0.1)</text>
<rect x="154.55" y="229.50" width="33.32" height="19.05" fill="rgb(183,183,249)"/>
<text transform="translate(170.78,237.80) scale(0.84,1)" class="hv">-0.25</text>
<text transform="translate(170.78,245.00) scale(0.86,1)" class="hv">(0.02)</text>
<rect x="187.82" y="229.50" width="33.32" height="19.05" fill="rgb(169,169,248)"/>
<text transform="translate(204.05,237.80) scale(0.84,1)" class="hv">-0.3</text>
<text transform="translate(204.05,245.00) scale(0.86,1)" class="hv">(0.004)</text>
<rect x="221.09" y="229.50" width="33.32" height="19.05" fill="rgb(214,214,252)"/>
<text transform="translate(237.33,237.80) scale(0.84,1)" class="hv">-0.14</text>
<text transform="translate(237.33,245.00) scale(0.86,1)" class="hv">(0.2)</text>
<rect x="254.36" y="229.50" width="33.32" height="19.05" fill="rgb(248,248,254)"/>
<text transform="translate(270.60,237.80) scale(0.84,1)" class="hv">-0.025</text>
<text transform="translate(270.60,245.00) scale(0.86,1)" class="hv">(0.8)</text>
<rect x="287.64" y="229.50" width="33.32" height="19.05" fill="rgb(244,123,123)"/>
<text transform="translate(303.87,237.80) scale(0.84,1)" class="hv">0.47</text>
<text transform="translate(303.87,245.00) scale(0.86,1)" class="hv">(2e-06)</text>
<rect x="320.91" y="229.50" width="33.32" height="19.05" fill="rgb(241,94,94)"/>
<text transform="translate(337.15,237.80) scale(0.84,1)" class="hv">0.58</text>
<text transform="translate(337.15,245.00) scale(0.86,1)" class="hv">(7e-10)</text>
<rect x="354.18" y="229.50" width="33.32" height="19.05" fill="rgb(97,97,241)"/>
<text transform="translate(370.42,237.80) scale(0.84,1)" class="hv">-0.57</text>
<text transform="translate(370.42,245.00) scale(0.86,1)" class="hv">(1e-05)</text>
<rect x="387.45" y="229.50" width="33.32" height="19.05" fill="rgb(200,200,250)"/>
<text transform="translate(403.69,237.80) scale(0.84,1)" class="hv">-0.19</text>
<text transform="translate(403.69,245.00) scale(0.86,1)" class="hv">(0.2)</text>
<rect x="420.73" y="229.50" width="33.32" height="19.05" fill="rgb(234,27,27)"/>
<text transform="translate(436.96,237.80) scale(0.84,1)" class="hv">0.86</text>
<text transform="translate(436.96,245.00) scale(0.86,1)" class="hv">(7e-19)</text>
<text transform="translate(63.6,261.60) scale(0.92,1)" class="rl">MEgreen</text>
<rect x="66.7" y="248.50" width="18.6" height="19.0" fill="#00ff00"/>
<rect x="88.00" y="248.50" width="33.32" height="19.05" fill="rgb(194,194,250)"/>
<text transform="translate(104.24,256.80) scale(0.84,1)" class="hv">-0.21</text>
<text transform="translate(104.24,264.00) scale(0.86,1)" class="hv">(0.05)</text>
<rect x="121.27" y="248.50" width="33.32" height="19.05" fill="rgb(206,206,251)"/>
<text transform="translate(137.51,256.80) scale(0.84,1)" class="hv">-0.17</text>
<text transform="translate(137.51,264.00) scale(0.86,1)" class="hv">(0.1)</text>
<rect x="154.55" y="248.50" width="33.32" height="19.05" fill="rgb(231,231,253)"/>
<text transform="translate(170.78,256.80) scale(0.84,1)" class="hv">-0.084</text>
<text transform="translate(170.78,264.00) scale(0.86,1)" class="hv">(0.4)</text>
<rect x="187.82" y="248.50" width="33.32" height="19.05" fill="rgb(235,235,253)"/>
<text transform="translate(204.05,256.80) scale(0.84,1)" class="hv">-0.068</text>
<text transform="translate(204.05,264.00) scale(0.86,1)" class="hv">(0.5)</text>
<rect x="221.09" y="248.50" width="33.32" height="19.05" fill="rgb(197,197,250)"/>
<text transform="translate(237.33,256.80) scale(0.84,1)" class="hv">-0.2</text>
<text transform="translate(237.33,264.00) scale(0.86,1)" class="hv">(0.06)</text>
<rect x="254.36" y="248.50" width="33.32" height="19.05" fill="rgb(186,186,249)"/>
<text transform="translate(270.60,256.80) scale(0.84,1)" class="hv">-0.24</text>
<text transform="translate(270.60,264.00) scale(0.86,1)" class="hv">(0.03)</text>
<rect x="287.64" y="248.50" width="33.32" height="19.05" fill="rgb(249,183,183)"/>
<text transform="translate(303.87,256.80) scale(0.84,1)" class="hv">0.25</text>
<text transform="translate(303.87,264.00) scale(0.86,1)" class="hv">(0.02)</text>
<rect x="320.91" y="248.50" width="33.32" height="19.05" fill="rgb(238,59,59)"/>
<text transform="translate(337.15,256.80) scale(0.84,1)" class="hv">0.72</text>
<text transform="translate(337.15,264.00) scale(0.86,1)" class="hv">(7e-17)</text>
<rect x="354.18" y="248.50" width="33.32" height="19.05" fill="rgb(220,220,252)"/>
<text transform="translate(370.42,256.80) scale(0.84,1)" class="hv">-0.12</text>
<text transform="translate(370.42,264.00) scale(0.86,1)" class="hv">(0.4)</text>
<rect x="387.45" y="248.50" width="33.32" height="19.05" fill="rgb(251,251,255)"/>
<text transform="translate(403.69,256.80) scale(0.84,1)" class="hv">-0.012</text>
<text transform="translate(403.69,264.00) scale(0.86,1)" class="hv">(0.9)</text>
<rect x="420.73" y="248.50" width="33.32" height="19.05" fill="rgb(251,212,212)"/>
<text transform="translate(436.96,256.80) scale(0.84,1)" class="hv">0.15</text>
<text transform="translate(436.96,264.00) scale(0.86,1)" class="hv">(0.3)</text>
<text transform="translate(63.6,280.60) scale(0.92,1)" class="rl">MEgrey</text>
<rect x="66.7" y="267.50" width="18.6" height="19.0" fill="#bebebe"/>
<rect x="88.00" y="267.50" width="33.32" height="19.05" fill="rgb(251,203,203)"/>
<text transform="translate(104.24,275.80) scale(0.84,1)" class="hv">0.18</text>
<text transform="translate(104.24,283.00) scale(0.86,1)" class="hv">(0.09)</text>
<rect x="121.27" y="267.50" width="33.32" height="19.05" fill="rgb(252,214,214)"/>
<text transform="translate(137.51,275.80) scale(0.84,1)" class="hv">0.14</text>
<text transform="translate(137.51,283.00) scale(0.86,1)" class="hv">(0.2)</text>
<rect x="154.55" y="267.50" width="33.32" height="19.05" fill="rgb(252,217,217)"/>
<text transform="translate(170.78,275.80) scale(0.84,1)" class="hv">0.13</text>
<text transform="translate(170.78,283.00) scale(0.86,1)" class="hv">(0.2)</text>
<rect x="187.82" y="267.50" width="33.32" height="19.05" fill="rgb(252,220,220)"/>
<text transform="translate(204.05,275.80) scale(0.84,1)" class="hv">0.12</text>
<text transform="translate(204.05,283.00) scale(0.86,1)" class="hv">(0.3)</text>
<rect x="221.09" y="267.50" width="33.32" height="19.05" fill="rgb(250,200,200)"/>
<text transform="translate(237.33,275.80) scale(0.84,1)" class="hv">0.19</text>
<text transform="translate(237.33,283.00) scale(0.86,1)" class="hv">(0.07)</text>
<rect x="254.36" y="267.50" width="33.32" height="19.05" fill="rgb(254,237,237)"/>
<text transform="translate(270.60,275.80) scale(0.84,1)" class="hv">0.06</text>
<text transform="translate(270.60,283.00) scale(0.86,1)" class="hv">(0.5)</text>
<rect x="287.64" y="267.50" width="33.32" height="19.05" fill="rgb(126,126,244)"/>
<text transform="translate(303.87,275.80) scale(0.84,1)" class="hv">-0.46</text>
<text transform="translate(303.87,283.00) scale(0.86,1)" class="hv">(4e-06)</text>
<rect x="320.91" y="267.50" width="33.32" height="19.05" fill="rgb(153,153,246)"/>
<text transform="translate(337.15,275.80) scale(0.84,1)" class="hv">-0.36</text>
<text transform="translate(337.15,283.00) scale(0.86,1)" class="hv">(5e-04)</text>
<rect x="354.18" y="267.50" width="33.32" height="19.05" fill="rgb(254,241,241)"/>
<text transform="translate(370.42,275.80) scale(0.84,1)" class="hv">0.049</text>
<text transform="translate(370.42,283.00) scale(0.86,1)" class="hv">(0.7)</text>
<rect x="387.45" y="267.50" width="33.32" height="19.05" fill="rgb(254,249,249)"/>
<text transform="translate(403.69,275.80) scale(0.84,1)" class="hv">0.022</text>
<text transform="translate(403.69,283.00) scale(0.86,1)" class="hv">(0.9)</text>
<rect x="420.73" y="267.50" width="33.32" height="19.05" fill="rgb(231,231,253)"/>
<text transform="translate(436.96,275.80) scale(0.84,1)" class="hv">-0.081</text>
<text transform="translate(436.96,283.00) scale(0.86,1)" class="hv">(0.6)</text>
<rect x="88.0" y="1.5" width="366.0" height="285.0" fill="none" stroke="#444" stroke-width="1"/>
<text transform="translate(107.04,292.5) rotate(-45)" class="cl">US_60</text>
<text transform="translate(140.31,292.5) rotate(-45)" class="cl">US_90</text>
<text transform="translate(173.58,292.5) rotate(-45)" class="cl">US_210</text>
<text transform="translate(206.85,292.5) rotate(-45)" class="cl">US_390</text>
<text transform="translate(240.13,292.5) rotate(-45)" class="cl">S_60</text>
<text transform="translate(273.40,292.5) rotate(-45)" class="cl">S_90</text>
<text transform="translate(306.67,292.5) rotate(-45)" class="cl">S_210</text>
<text transform="translate(339.95,292.5) rotate(-45)" class="cl">S_390</text>
<text transform="translate(373.22,292.5) rotate(-45)" class="cl">PB</text>
<text transform="translate(406.49,292.5) rotate(-45)" class="cl">BM</text>
<text transform="translate(439.76,292.5) rotate(-45)" class="cl">LN</text>
<defs><linearGradient id="cbg" x1="0" y1="0" x2="0" y2="1"><stop offset="0" stop-color="#ff0000"/><stop offset="0.5" stop-color="#ffffff"/><stop offset="1" stop-color="#0000ff"/></linearGradient></defs>
<rect x="462.7" y="18.5" width="8" height="250" fill="url(#cbg)" stroke="#777" stroke-width="0.6"/>
<line x1="470.7" x2="477.3" y1="18.5" y2="18.5" stroke="#555" stroke-width="0.8"/>
<text x="477.8" y="21.90" class="tl">1</text>
<line x1="470.7" x2="477.3" y1="81" y2="81" stroke="#555" stroke-width="0.8"/>
<text x="477.8" y="84.40" class="tl">0.5</text>
<line x1="470.7" x2="477.3" y1="143.5" y2="143.5" stroke="#555" stroke-width="0.8"/>
<text x="477.8" y="146.90" class="tl">0</text>
<line x1="470.7" x2="477.3" y1="206" y2="206" stroke="#555" stroke-width="0.8"/>
<text x="477.8" y="209.40" class="tl">-0.5</text>
<line x1="470.7" x2="477.3" y1="268.5" y2="268.5" stroke="#555" stroke-width="0.8"/>
<text x="477.8" y="271.90" class="tl">-1</text>
<text x="1.9" y="343.9" class="big" style="font-size:17.6px">B</text>

<line x1="95.20" x2="95.20" y1="363.3" y2="477.7" stroke="#dfa0b4" stroke-width="1.2" stroke-dasharray="2,1"/>
<line x1="37.9" x2="152.5" y1="420.50" y2="420.50" stroke="#dfa0b4" stroke-width="1.2" stroke-dasharray="2,1"/>
<circle cx="126.73" cy="405.55" r="1.55"/>
<circle cx="129.45" cy="379.16" r="1.55"/>
<circle cx="124.20" cy="398.40" r="1.55"/>
<circle cx="118.55" cy="390.50" r="1.55"/>
<circle cx="122.55" cy="393.63" r="1.55"/>
<circle cx="117.62" cy="398.09" r="1.55"/>
<circle cx="127.27" cy="398.24" r="1.55"/>
<circle cx="139.00" cy="385.87" r="1.55"/>
<circle cx="122.20" cy="396.40" r="1.55"/>
<circle cx="121.03" cy="394.92" r="1.55"/>
<circle cx="131.21" cy="392.56" r="1.55"/>
<circle cx="129.99" cy="380.76" r="1.55"/>
<circle cx="127.68" cy="385.99" r="1.55"/>
<circle cx="118.18" cy="389.59" r="1.55"/>
<circle cx="126.45" cy="398.85" r="1.55"/>
<circle cx="133.09" cy="406.90" r="1.55"/>
<circle cx="114.39" cy="383.97" r="1.55"/>
<circle cx="122.52" cy="383.34" r="1.55"/>
<circle cx="109.28" cy="395.47" r="1.55"/>
<circle cx="114.89" cy="388.14" r="1.55"/>
<circle cx="109.83" cy="385.96" r="1.55"/>
<circle cx="124.56" cy="384.62" r="1.55"/>
<circle cx="115.10" cy="384.22" r="1.55"/>
<circle cx="129.20" cy="397.59" r="1.55"/>
<circle cx="128.15" cy="377.38" r="1.55"/>
<circle cx="125.00" cy="405.96" r="1.55"/>
<circle cx="103.64" cy="385.48" r="1.55"/>
<circle cx="121.78" cy="388.24" r="1.55"/>
<circle cx="126.27" cy="384.09" r="1.55"/>
<circle cx="127.75" cy="373.66" r="1.55"/>
<circle cx="112.69" cy="378.57" r="1.55"/>
<circle cx="122.33" cy="405.07" r="1.55"/>
<circle cx="117.74" cy="410.91" r="1.55"/>
<circle cx="119.30" cy="385.06" r="1.55"/>
<circle cx="136.44" cy="402.94" r="1.55"/>
<circle cx="119.31" cy="393.59" r="1.55"/>
<circle cx="126.42" cy="384.43" r="1.55"/>
<circle cx="134.82" cy="409.49" r="1.55"/>
<circle cx="121.43" cy="401.92" r="1.55"/>
<circle cx="125.69" cy="390.44" r="1.55"/>
<circle cx="127.73" cy="392.53" r="1.55"/>
<circle cx="127.30" cy="395.54" r="1.55"/>
<circle cx="115.48" cy="393.28" r="1.55"/>
<circle cx="127.41" cy="401.85" r="1.55"/>
<circle cx="139.17" cy="407.91" r="1.55"/>
<circle cx="112.53" cy="395.55" r="1.55"/>
<circle cx="134.59" cy="402.59" r="1.55"/>
<circle cx="127.81" cy="409.88" r="1.55"/>
<circle cx="120.83" cy="388.17" r="1.55"/>
<circle cx="126.34" cy="399.87" r="1.55"/>
<circle cx="133.70" cy="388.47" r="1.55"/>
<circle cx="115.72" cy="403.83" r="1.55"/>
<circle cx="127.40" cy="399.77" r="1.55"/>
<circle cx="132.00" cy="403.02" r="1.55"/>
<circle cx="124.98" cy="402.26" r="1.55"/>
<circle cx="132.98" cy="390.68" r="1.55"/>
<circle cx="126.11" cy="401.13" r="1.55"/>
<circle cx="132.83" cy="389.04" r="1.55"/>
<circle cx="139.90" cy="388.81" r="1.55"/>
<circle cx="122.56" cy="399.45" r="1.55"/>
<circle cx="128.58" cy="407.26" r="1.55"/>
<circle cx="122.47" cy="384.15" r="1.55"/>
<circle cx="127.88" cy="393.90" r="1.55"/>
<circle cx="115.83" cy="393.80" r="1.55"/>
<circle cx="121.40" cy="408.25" r="1.55"/>
<circle cx="124.92" cy="397.88" r="1.55"/>
<circle cx="134.95" cy="384.94" r="1.55"/>
<circle cx="137.21" cy="393.30" r="1.55"/>
<circle cx="114.58" cy="392.89" r="1.55"/>
<circle cx="119.43" cy="396.44" r="1.55"/>
<circle cx="132.65" cy="380.84" r="1.55"/>
<circle cx="108.45" cy="394.29" r="1.55"/>
<circle cx="122.27" cy="390.85" r="1.55"/>
<circle cx="125.82" cy="400.21" r="1.55"/>
<circle cx="138.24" cy="412.64" r="1.55"/>
<circle cx="122.80" cy="396.64" r="1.55"/>
<circle cx="123.72" cy="398.66" r="1.55"/>
<circle cx="123.34" cy="379.52" r="1.55"/>
<circle cx="124.42" cy="392.69" r="1.55"/>
<circle cx="140.68" cy="404.32" r="1.55"/>
<circle cx="122.79" cy="402.94" r="1.55"/>
<circle cx="123.93" cy="381.57" r="1.55"/>
<circle cx="129.95" cy="391.24" r="1.55"/>
<circle cx="125.61" cy="392.61" r="1.55"/>
<circle cx="124.91" cy="393.70" r="1.55"/>
<circle cx="116.50" cy="393.22" r="1.55"/>
<circle cx="126.61" cy="384.77" r="1.55"/>
<circle cx="122.65" cy="387.59" r="1.55"/>
<circle cx="137.41" cy="390.23" r="1.55"/>
<circle cx="132.70" cy="403.43" r="1.55"/>
<circle cx="126.49" cy="387.80" r="1.55"/>
<circle cx="132.84" cy="399.74" r="1.55"/>
<circle cx="123.60" cy="381.97" r="1.55"/>
<circle cx="136.36" cy="405.57" r="1.55"/>
<circle cx="126.67" cy="394.46" r="1.55"/>
<circle cx="132.06" cy="392.82" r="1.55"/>
<circle cx="114.88" cy="407.33" r="1.55"/>
<circle cx="129.89" cy="375.16" r="1.55"/>
<circle cx="111.24" cy="378.90" r="1.55"/>
<circle cx="108.06" cy="398.86" r="1.55"/>
<circle cx="123.92" cy="385.27" r="1.55"/>
<circle cx="118.46" cy="389.61" r="1.55"/>
<circle cx="129.54" cy="384.75" r="1.55"/>
<circle cx="113.36" cy="403.09" r="1.55"/>
<circle cx="119.09" cy="394.10" r="1.55"/>
<circle cx="120.99" cy="392.51" r="1.55"/>
<circle cx="128.60" cy="404.01" r="1.55"/>
<circle cx="131.23" cy="395.56" r="1.55"/>
<circle cx="125.10" cy="394.97" r="1.55"/>
<circle cx="124.83" cy="380.93" r="1.55"/>
<circle cx="133.16" cy="389.24" r="1.55"/>
<circle cx="131.48" cy="392.83" r="1.55"/>
<circle cx="117.24" cy="377.85" r="1.55"/>
<circle cx="125.99" cy="398.79" r="1.55"/>
<circle cx="127.04" cy="397.03" r="1.55"/>
<circle cx="117.05" cy="412.27" r="1.55"/>
<circle cx="129.10" cy="376.77" r="1.55"/>
<circle cx="118.85" cy="383.57" r="1.55"/>
<circle cx="135.63" cy="383.12" r="1.55"/>
<circle cx="128.48" cy="386.07" r="1.55"/>
<circle cx="127.53" cy="391.87" r="1.55"/>
<circle cx="121.30" cy="391.13" r="1.55"/>
<circle cx="125.63" cy="395.70" r="1.55"/>
<circle cx="108.40" cy="396.17" r="1.55"/>
<circle cx="116.34" cy="393.07" r="1.55"/>
<circle cx="130.04" cy="377.31" r="1.55"/>
<circle cx="107.20" cy="388.43" r="1.55"/>
<circle cx="134.48" cy="393.21" r="1.55"/>
<circle cx="110.71" cy="399.90" r="1.55"/>
<circle cx="133.65" cy="399.18" r="1.55"/>
<circle cx="118.96" cy="377.00" r="1.55"/>
<circle cx="133.86" cy="387.43" r="1.55"/>
<circle cx="127.92" cy="392.28" r="1.55"/>
<circle cx="112.63" cy="397.39" r="1.55"/>
<circle cx="138.17" cy="403.81" r="1.55"/>
<circle cx="139.93" cy="392.99" r="1.55"/>
<circle cx="126.11" cy="384.09" r="1.55"/>
<circle cx="124.20" cy="397.22" r="1.55"/>
<circle cx="125.25" cy="395.46" r="1.55"/>
<circle cx="117.77" cy="395.82" r="1.55"/>
<circle cx="136.79" cy="391.35" r="1.55"/>
<circle cx="121.74" cy="409.70" r="1.55"/>
<circle cx="126.25" cy="395.49" r="1.55"/>
<circle cx="119.44" cy="402.24" r="1.55"/>
<circle cx="120.98" cy="384.27" r="1.55"/>
<circle cx="115.00" cy="401.63" r="1.55"/>
<circle cx="138.24" cy="386.46" r="1.55"/>
<circle cx="125.30" cy="377.45" r="1.55"/>
<circle cx="135.57" cy="395.77" r="1.55"/>
<circle cx="126.84" cy="399.22" r="1.55"/>
<circle cx="120.35" cy="391.43" r="1.55"/>
<circle cx="123.72" cy="393.23" r="1.55"/>
<circle cx="121.58" cy="403.55" r="1.55"/>
<circle cx="126.79" cy="388.30" r="1.55"/>
<circle cx="111.60" cy="382.11" r="1.55"/>
<circle cx="123.97" cy="395.85" r="1.55"/>
<circle cx="114.08" cy="395.84" r="1.55"/>
<circle cx="119.32" cy="404.20" r="1.55"/>
<circle cx="141.88" cy="388.91" r="1.55"/>
<circle cx="120.56" cy="406.21" r="1.55"/>
<circle cx="117.05" cy="404.97" r="1.55"/>
<circle cx="129.81" cy="379.71" r="1.55"/>
<circle cx="139.62" cy="401.63" r="1.55"/>
<circle cx="113.38" cy="382.67" r="1.55"/>
<circle cx="124.80" cy="377.48" r="1.55"/>
<circle cx="120.92" cy="390.70" r="1.55"/>
<circle cx="110.57" cy="388.26" r="1.55"/>
<circle cx="133.53" cy="400.75" r="1.55"/>
<circle cx="126.50" cy="395.08" r="1.55"/>
<circle cx="127.37" cy="399.11" r="1.55"/>
<circle cx="119.82" cy="407.35" r="1.55"/>
<circle cx="130.88" cy="392.38" r="1.55"/>
<circle cx="121.77" cy="378.11" r="1.55"/>
<circle cx="125.40" cy="383.25" r="1.55"/>
<circle cx="116.55" cy="403.30" r="1.55"/>
<circle cx="134.73" cy="414.73" r="1.55"/>
<circle cx="134.13" cy="420.97" r="1.55"/>
<circle cx="130.70" cy="417.01" r="1.55"/>
<circle cx="124.44" cy="419.60" r="1.55"/>
<circle cx="129.81" cy="420.63" r="1.55"/>
<circle cx="128.58" cy="420.43" r="1.55"/>
<circle cx="133.85" cy="424.27" r="1.55"/>
<circle cx="140.35" cy="424.85" r="1.55"/>
<circle cx="132.17" cy="415.89" r="1.55"/>
<circle cx="128.17" cy="419.84" r="1.55"/>
<circle cx="126.60" cy="418.20" r="1.55"/>
<circle cx="131.07" cy="415.06" r="1.55"/>
<circle cx="130.59" cy="426.01" r="1.55"/>
<circle cx="126.68" cy="422.21" r="1.55"/>
<circle cx="131.77" cy="418.37" r="1.55"/>
<circle cx="126.68" cy="417.50" r="1.55"/>
<circle cx="135.76" cy="420.58" r="1.55"/>
<circle cx="135.56" cy="414.95" r="1.55"/>
<circle cx="107.23" cy="412.49" r="1.55"/>
<circle cx="110.10" cy="431.94" r="1.55"/>
<circle cx="109.53" cy="435.94" r="1.55"/>
<circle cx="116.97" cy="433.37" r="1.55"/>
<circle cx="129.01" cy="430.51" r="1.55"/>
<circle cx="113.54" cy="422.22" r="1.55"/>
<circle cx="102.08" cy="400.48" r="1.55"/>
<circle cx="100.36" cy="389.61" r="1.55"/>
<circle cx="107.23" cy="385.32" r="1.55"/>
<circle cx="102.08" cy="406.20" r="1.55"/>
<circle cx="104.94" cy="405.34" r="1.55"/>
<circle cx="107.81" cy="403.91" r="1.55"/>
<circle cx="111.24" cy="404.77" r="1.55"/>
<circle cx="67.45" cy="409.21" r="1.55"/>
<circle cx="61.34" cy="422.90" r="1.55"/>
<circle cx="62.55" cy="415.89" r="1.55"/>
<circle cx="70.01" cy="419.58" r="1.55"/>
<circle cx="68.54" cy="422.74" r="1.55"/>
<circle cx="58.39" cy="414.68" r="1.55"/>
<circle cx="72.34" cy="419.14" r="1.55"/>
<circle cx="69.12" cy="414.59" r="1.55"/>
<circle cx="72.32" cy="418.50" r="1.55"/>
<circle cx="64.90" cy="424.73" r="1.55"/>
<circle cx="65.28" cy="418.83" r="1.55"/>
<circle cx="61.71" cy="417.90" r="1.55"/>
<circle cx="77.45" cy="412.46" r="1.55"/>
<circle cx="65.80" cy="423.66" r="1.55"/>
<circle cx="73.37" cy="418.45" r="1.55"/>
<circle cx="63.77" cy="428.55" r="1.55"/>
<circle cx="67.25" cy="414.30" r="1.55"/>
<circle cx="59.37" cy="424.71" r="1.55"/>
<circle cx="64.90" cy="429.06" r="1.55"/>
<circle cx="70.78" cy="418.57" r="1.55"/>
<circle cx="61.17" cy="411.57" r="1.55"/>
<circle cx="71.16" cy="427.37" r="1.55"/>
<circle cx="68.00" cy="424.75" r="1.55"/>
<circle cx="62.06" cy="422.68" r="1.55"/>
<circle cx="64.39" cy="425.00" r="1.55"/>
<circle cx="64.58" cy="415.93" r="1.55"/>
<circle cx="66.34" cy="423.06" r="1.55"/>
<circle cx="64.25" cy="422.55" r="1.55"/>
<circle cx="62.99" cy="414.71" r="1.55"/>
<circle cx="65.24" cy="422.75" r="1.55"/>
<circle cx="62.14" cy="415.61" r="1.55"/>
<circle cx="61.01" cy="424.05" r="1.55"/>
<circle cx="66.34" cy="425.49" r="1.55"/>
<circle cx="70.34" cy="429.24" r="1.55"/>
<circle cx="59.98" cy="407.03" r="1.55"/>
<circle cx="66.57" cy="420.14" r="1.55"/>
<circle cx="63.76" cy="416.75" r="1.55"/>
<circle cx="62.35" cy="418.40" r="1.55"/>
<circle cx="70.22" cy="417.25" r="1.55"/>
<circle cx="64.32" cy="417.91" r="1.55"/>
<circle cx="60.25" cy="403.91" r="1.55"/>
<circle cx="79.73" cy="403.63" r="1.55"/>
<circle cx="87.18" cy="407.63" r="1.55"/>
<circle cx="51.65" cy="414.78" r="1.55"/>
<circle cx="52.80" cy="420.50" r="1.55"/>
<circle cx="76.81" cy="453.43" r="1.55"/>
<circle cx="56.54" cy="444.13" r="1.55"/>
<circle cx="52.98" cy="443.88" r="1.55"/>
<circle cx="56.73" cy="445.20" r="1.55"/>
<circle cx="54.51" cy="446.34" r="1.55"/>
<circle cx="68.82" cy="446.13" r="1.55"/>
<circle cx="69.33" cy="448.71" r="1.55"/>
<circle cx="57.07" cy="445.68" r="1.55"/>
<circle cx="54.12" cy="446.89" r="1.55"/>
<circle cx="61.25" cy="444.13" r="1.55"/>
<circle cx="73.25" cy="449.69" r="1.55"/>
<circle cx="60.04" cy="446.20" r="1.55"/>
<circle cx="67.31" cy="443.91" r="1.55"/>
<circle cx="56.29" cy="445.13" r="1.55"/>
<circle cx="70.84" cy="446.41" r="1.55"/>
<circle cx="56.27" cy="442.15" r="1.55"/>
<circle cx="61.72" cy="451.67" r="1.55"/>
<circle cx="53.33" cy="442.55" r="1.55"/>
<circle cx="56.97" cy="443.48" r="1.55"/>
<circle cx="73.21" cy="443.31" r="1.55"/>
<circle cx="69.33" cy="442.88" r="1.55"/>
<circle cx="60.92" cy="447.33" r="1.55"/>
<circle cx="57.70" cy="445.64" r="1.55"/>
<circle cx="50.66" cy="441.79" r="1.55"/>
<circle cx="60.98" cy="442.68" r="1.55"/>
<circle cx="63.47" cy="443.64" r="1.55"/>
<circle cx="63.11" cy="451.02" r="1.55"/>
<circle cx="63.04" cy="442.22" r="1.55"/>
<circle cx="55.97" cy="439.51" r="1.55"/>
<circle cx="63.23" cy="440.19" r="1.55"/>
<circle cx="63.42" cy="443.52" r="1.55"/>
<circle cx="72.56" cy="451.21" r="1.55"/>
<circle cx="76.52" cy="440.48" r="1.55"/>
<circle cx="62.74" cy="445.16" r="1.55"/>
<circle cx="58.42" cy="455.39" r="1.55"/>
<circle cx="63.24" cy="442.91" r="1.55"/>
<circle cx="59.51" cy="450.93" r="1.55"/>
<circle cx="58.58" cy="450.09" r="1.55"/>
<circle cx="63.28" cy="447.25" r="1.55"/>
<circle cx="56.51" cy="439.06" r="1.55"/>
<circle cx="67.85" cy="446.11" r="1.55"/>
<circle cx="62.97" cy="443.36" r="1.55"/>
<circle cx="65.40" cy="437.03" r="1.55"/>
<circle cx="62.43" cy="437.69" r="1.55"/>
<circle cx="58.68" cy="444.97" r="1.55"/>
<circle cx="57.17" cy="445.56" r="1.55"/>
<circle cx="62.05" cy="449.93" r="1.55"/>
<circle cx="59.91" cy="447.50" r="1.55"/>
<circle cx="65.29" cy="442.70" r="1.55"/>
<circle cx="63.65" cy="442.83" r="1.55"/>
<circle cx="54.32" cy="444.05" r="1.55"/>
<circle cx="64.15" cy="440.26" r="1.55"/>
<circle cx="54.45" cy="447.84" r="1.55"/>
<circle cx="59.45" cy="444.76" r="1.55"/>
<circle cx="61.66" cy="441.39" r="1.55"/>
<circle cx="50.51" cy="454.82" r="1.55"/>
<circle cx="65.40" cy="454.82" r="1.55"/>
<circle cx="62.54" cy="436.80" r="1.55"/>
<rect x="37.9" y="363.3" width="114.6" height="114.39999999999998" fill="none" stroke="#333" stroke-width="1.1"/>
<line x1="35.9" x2="37.9" y1="363.30" y2="363.30" stroke="#333" stroke-width="0.8"/>
<text x="35.6" y="365.00" class="tk" text-anchor="end">20</text>
<line x1="35.9" x2="37.9" y1="391.90" y2="391.90" stroke="#333" stroke-width="0.8"/>
<text x="35.6" y="393.60" class="tk" text-anchor="end">10</text>
<line x1="35.9" x2="37.9" y1="420.50" y2="420.50" stroke="#333" stroke-width="0.8"/>
<text x="35.6" y="422.20" class="tk" text-anchor="end">0</text>
<line x1="35.9" x2="37.9" y1="449.10" y2="449.10" stroke="#333" stroke-width="0.8"/>
<text x="35.6" y="450.80" class="tk" text-anchor="end">-10</text>
<line x1="35.9" x2="37.9" y1="477.70" y2="477.70" stroke="#333" stroke-width="0.8"/>
<text x="35.6" y="479.40" class="tk" text-anchor="end">-20</text>
<line x1="37.90" x2="37.90" y1="477.7" y2="479.7" stroke="#333" stroke-width="0.8"/>
<text x="37.90" y="484.20" class="tk" text-anchor="middle">-1.0</text>
<line x1="66.55" x2="66.55" y1="477.7" y2="479.7" stroke="#333" stroke-width="0.8"/>
<text x="66.55" y="484.20" class="tk" text-anchor="middle">-0.5</text>
<line x1="95.20" x2="95.20" y1="477.7" y2="479.7" stroke="#333" stroke-width="0.8"/>
<text x="95.20" y="484.20" class="tk" text-anchor="middle">0.0</text>
<line x1="123.85" x2="123.85" y1="477.7" y2="479.7" stroke="#333" stroke-width="0.8"/>
<text x="123.85" y="484.20" class="tk" text-anchor="middle">0.5</text>
<line x1="152.50" x2="152.50" y1="477.7" y2="479.7" stroke="#333" stroke-width="0.8"/>
<text x="152.50" y="484.20" class="tk" text-anchor="middle">1.0</text>

<line x1="93.25" x2="93.25" y1="532.3" y2="647.5" stroke="#dfa0b4" stroke-width="1.2" stroke-dasharray="2,1"/>
<line x1="35.9" x2="150.6" y1="589.90" y2="589.90" stroke="#dfa0b4" stroke-width="1.2" stroke-dasharray="2,1"/>
<circle cx="128.21" cy="543.21" r="1.55"/>
<circle cx="122.13" cy="545.74" r="1.55"/>
<circle cx="127.91" cy="552.84" r="1.55"/>
<circle cx="116.17" cy="553.97" r="1.55"/>
<circle cx="110.69" cy="574.02" r="1.55"/>
<circle cx="129.79" cy="552.02" r="1.55"/>
<circle cx="124.32" cy="558.80" r="1.55"/>
<circle cx="127.45" cy="553.85" r="1.55"/>
<circle cx="110.19" cy="554.99" r="1.55"/>
<circle cx="121.65" cy="560.29" r="1.55"/>
<circle cx="119.63" cy="570.15" r="1.55"/>
<circle cx="117.36" cy="556.01" r="1.55"/>
<circle cx="105.39" cy="565.83" r="1.55"/>
<circle cx="121.91" cy="560.17" r="1.55"/>
<circle cx="132.51" cy="560.33" r="1.55"/>
<circle cx="128.07" cy="559.22" r="1.55"/>
<circle cx="119.62" cy="574.51" r="1.55"/>
<circle cx="124.66" cy="548.79" r="1.55"/>
<circle cx="131.30" cy="554.48" r="1.55"/>
<circle cx="101.05" cy="553.49" r="1.55"/>
<circle cx="123.72" cy="543.57" r="1.55"/>
<circle cx="129.47" cy="556.41" r="1.55"/>
<circle cx="130.66" cy="569.09" r="1.55"/>
<circle cx="139.42" cy="561.21" r="1.55"/>
<circle cx="134.56" cy="564.24" r="1.55"/>
<circle cx="127.48" cy="560.45" r="1.55"/>
<circle cx="127.39" cy="556.36" r="1.55"/>
<circle cx="131.56" cy="570.35" r="1.55"/>
<circle cx="120.15" cy="555.72" r="1.55"/>
<circle cx="124.45" cy="568.07" r="1.55"/>
<circle cx="132.59" cy="553.95" r="1.55"/>
<circle cx="141.63" cy="555.31" r="1.55"/>
<circle cx="123.42" cy="559.80" r="1.55"/>
<circle cx="124.38" cy="557.94" r="1.55"/>
<circle cx="126.50" cy="560.88" r="1.55"/>
<circle cx="136.35" cy="559.74" r="1.55"/>
<circle cx="124.53" cy="569.27" r="1.55"/>
<circle cx="137.43" cy="555.45" r="1.55"/>
<circle cx="116.48" cy="545.73" r="1.55"/>
<circle cx="123.19" cy="543.65" r="1.55"/>
<circle cx="123.09" cy="548.32" r="1.55"/>
<circle cx="131.56" cy="551.24" r="1.55"/>
<circle cx="133.78" cy="560.62" r="1.55"/>
<circle cx="111.81" cy="549.35" r="1.55"/>
<circle cx="116.92" cy="559.07" r="1.55"/>
<circle cx="127.69" cy="557.36" r="1.55"/>
<circle cx="119.13" cy="560.36" r="1.55"/>
<circle cx="111.70" cy="558.90" r="1.55"/>
<circle cx="133.73" cy="558.93" r="1.55"/>
<circle cx="129.04" cy="557.24" r="1.55"/>
<circle cx="129.04" cy="564.30" r="1.55"/>
<circle cx="120.70" cy="560.68" r="1.55"/>
<circle cx="118.68" cy="568.68" r="1.55"/>
<circle cx="122.73" cy="558.19" r="1.55"/>
<circle cx="134.22" cy="557.46" r="1.55"/>
<circle cx="116.95" cy="554.91" r="1.55"/>
<circle cx="117.44" cy="553.59" r="1.55"/>
<circle cx="126.55" cy="564.92" r="1.55"/>
<circle cx="118.75" cy="559.83" r="1.55"/>
<circle cx="130.60" cy="549.91" r="1.55"/>
<circle cx="127.03" cy="555.08" r="1.55"/>
<circle cx="116.85" cy="557.82" r="1.55"/>
<circle cx="125.42" cy="546.29" r="1.55"/>
<circle cx="121.77" cy="562.64" r="1.55"/>
<circle cx="132.67" cy="555.45" r="1.55"/>
<circle cx="119.35" cy="561.94" r="1.55"/>
<circle cx="121.01" cy="547.47" r="1.55"/>
<circle cx="135.21" cy="569.38" r="1.55"/>
<circle cx="100.08" cy="556.33" r="1.55"/>
<circle cx="141.99" cy="558.21" r="1.55"/>
<circle cx="125.34" cy="552.58" r="1.55"/>
<circle cx="126.68" cy="552.76" r="1.55"/>
<circle cx="137.98" cy="545.31" r="1.55"/>
<circle cx="123.72" cy="568.64" r="1.55"/>
<circle cx="116.39" cy="553.47" r="1.55"/>
<circle cx="125.80" cy="559.26" r="1.55"/>
<circle cx="128.68" cy="561.40" r="1.55"/>
<circle cx="117.66" cy="554.74" r="1.55"/>
<circle cx="110.63" cy="566.22" r="1.55"/>
<circle cx="112.43" cy="574.08" r="1.55"/>
<circle cx="130.52" cy="559.01" r="1.55"/>
<circle cx="118.27" cy="569.01" r="1.55"/>
<circle cx="123.58" cy="562.14" r="1.55"/>
<circle cx="126.62" cy="554.43" r="1.55"/>
<circle cx="130.12" cy="554.26" r="1.55"/>
<circle cx="121.91" cy="546.64" r="1.55"/>
<circle cx="129.08" cy="558.05" r="1.55"/>
<circle cx="117.14" cy="569.45" r="1.55"/>
<circle cx="121.68" cy="563.21" r="1.55"/>
<circle cx="115.98" cy="565.32" r="1.55"/>
<circle cx="134.53" cy="564.32" r="1.55"/>
<circle cx="124.56" cy="554.32" r="1.55"/>
<circle cx="118.43" cy="562.97" r="1.55"/>
<circle cx="121.76" cy="571.81" r="1.55"/>
<circle cx="122.89" cy="552.76" r="1.55"/>
<circle cx="130.82" cy="557.13" r="1.55"/>
<circle cx="111.07" cy="557.14" r="1.55"/>
<circle cx="115.87" cy="558.10" r="1.55"/>
<circle cx="121.54" cy="553.44" r="1.55"/>
<circle cx="122.90" cy="566.03" r="1.55"/>
<circle cx="133.01" cy="547.26" r="1.55"/>
<circle cx="123.83" cy="554.52" r="1.55"/>
<circle cx="130.92" cy="553.56" r="1.55"/>
<circle cx="142.49" cy="551.50" r="1.55"/>
<circle cx="122.78" cy="567.97" r="1.55"/>
<circle cx="121.64" cy="559.05" r="1.55"/>
<circle cx="135.22" cy="557.44" r="1.55"/>
<circle cx="129.04" cy="555.18" r="1.55"/>
<circle cx="130.57" cy="565.97" r="1.55"/>
<circle cx="120.42" cy="546.56" r="1.55"/>
<circle cx="106.66" cy="571.43" r="1.55"/>
<circle cx="100.35" cy="568.55" r="1.55"/>
<circle cx="110.61" cy="562.21" r="1.55"/>
<circle cx="99.63" cy="563.80" r="1.55"/>
<circle cx="105.54" cy="568.92" r="1.55"/>
<circle cx="114.29" cy="562.02" r="1.55"/>
<circle cx="127.99" cy="561.38" r="1.55"/>
<circle cx="97.20" cy="568.14" r="1.55"/>
<circle cx="101.87" cy="568.23" r="1.55"/>
<circle cx="98.64" cy="575.04" r="1.55"/>
<circle cx="112.61" cy="564.42" r="1.55"/>
<circle cx="95.99" cy="564.10" r="1.55"/>
<circle cx="101.70" cy="573.13" r="1.55"/>
<circle cx="105.61" cy="567.76" r="1.55"/>
<circle cx="97.45" cy="564.90" r="1.55"/>
<circle cx="97.63" cy="574.92" r="1.55"/>
<circle cx="101.78" cy="566.43" r="1.55"/>
<circle cx="87.80" cy="577.76" r="1.55"/>
<circle cx="93.43" cy="563.36" r="1.55"/>
<circle cx="102.31" cy="553.90" r="1.55"/>
<circle cx="107.14" cy="554.17" r="1.55"/>
<circle cx="104.27" cy="568.03" r="1.55"/>
<circle cx="90.61" cy="566.48" r="1.55"/>
<circle cx="101.88" cy="566.76" r="1.55"/>
<circle cx="112.74" cy="563.67" r="1.55"/>
<circle cx="110.65" cy="555.89" r="1.55"/>
<circle cx="105.19" cy="574.14" r="1.55"/>
<circle cx="98.23" cy="562.40" r="1.55"/>
<circle cx="111.30" cy="564.97" r="1.55"/>
<circle cx="100.89" cy="559.57" r="1.55"/>
<circle cx="95.81" cy="568.16" r="1.55"/>
<circle cx="98.97" cy="572.22" r="1.55"/>
<circle cx="118.33" cy="561.00" r="1.55"/>
<circle cx="107.76" cy="561.45" r="1.55"/>
<circle cx="115.84" cy="563.14" r="1.55"/>
<circle cx="101.74" cy="564.66" r="1.55"/>
<circle cx="113.94" cy="566.94" r="1.55"/>
<circle cx="100.69" cy="580.20" r="1.55"/>
<circle cx="104.51" cy="561.46" r="1.55"/>
<circle cx="127.26" cy="555.92" r="1.55"/>
<circle cx="112.47" cy="563.48" r="1.55"/>
<circle cx="101.56" cy="567.16" r="1.55"/>
<circle cx="105.14" cy="560.48" r="1.55"/>
<circle cx="108.67" cy="568.11" r="1.55"/>
<circle cx="116.28" cy="567.32" r="1.55"/>
<circle cx="101.66" cy="568.62" r="1.55"/>
<circle cx="90.89" cy="563.79" r="1.55"/>
<circle cx="103.46" cy="575.05" r="1.55"/>
<circle cx="106.00" cy="559.32" r="1.55"/>
<circle cx="106.81" cy="569.72" r="1.55"/>
<circle cx="117.19" cy="569.34" r="1.55"/>
<circle cx="108.59" cy="558.16" r="1.55"/>
<circle cx="112.86" cy="564.79" r="1.55"/>
<circle cx="96.39" cy="576.63" r="1.55"/>
<circle cx="113.33" cy="566.17" r="1.55"/>
<circle cx="123.90" cy="555.56" r="1.55"/>
<circle cx="112.52" cy="557.40" r="1.55"/>
<circle cx="108.05" cy="568.12" r="1.55"/>
<circle cx="107.19" cy="563.53" r="1.55"/>
<circle cx="121.24" cy="557.61" r="1.55"/>
<circle cx="89.55" cy="581.06" r="1.55"/>
<circle cx="95.29" cy="576.81" r="1.55"/>
<circle cx="93.07" cy="569.75" r="1.55"/>
<circle cx="90.18" cy="569.21" r="1.55"/>
<circle cx="90.43" cy="569.44" r="1.55"/>
<circle cx="93.63" cy="572.93" r="1.55"/>
<circle cx="93.42" cy="570.65" r="1.55"/>
<circle cx="90.01" cy="569.80" r="1.55"/>
<circle cx="90.81" cy="572.96" r="1.55"/>
<circle cx="99.63" cy="568.18" r="1.55"/>
<circle cx="94.48" cy="582.38" r="1.55"/>
<circle cx="98.33" cy="569.88" r="1.55"/>
<circle cx="100.14" cy="577.09" r="1.55"/>
<circle cx="96.63" cy="568.48" r="1.55"/>
<circle cx="106.27" cy="573.61" r="1.55"/>
<circle cx="88.52" cy="576.46" r="1.55"/>
<circle cx="97.89" cy="571.00" r="1.55"/>
<circle cx="91.43" cy="576.56" r="1.55"/>
<circle cx="103.89" cy="576.56" r="1.55"/>
<circle cx="103.00" cy="579.39" r="1.55"/>
<circle cx="77.68" cy="572.58" r="1.55"/>
<circle cx="69.17" cy="576.05" r="1.55"/>
<circle cx="70.56" cy="581.98" r="1.55"/>
<circle cx="62.81" cy="585.49" r="1.55"/>
<circle cx="68.48" cy="585.59" r="1.55"/>
<circle cx="62.97" cy="591.54" r="1.55"/>
<circle cx="58.53" cy="582.55" r="1.55"/>
<circle cx="58.34" cy="585.74" r="1.55"/>
<circle cx="76.73" cy="572.42" r="1.55"/>
<circle cx="83.23" cy="571.05" r="1.55"/>
<circle cx="63.39" cy="581.63" r="1.55"/>
<circle cx="58.63" cy="590.05" r="1.55"/>
<circle cx="62.46" cy="583.05" r="1.55"/>
<circle cx="60.84" cy="584.98" r="1.55"/>
<circle cx="62.98" cy="580.67" r="1.55"/>
<circle cx="68.73" cy="579.19" r="1.55"/>
<circle cx="72.33" cy="582.85" r="1.55"/>
<circle cx="67.73" cy="582.41" r="1.55"/>
<circle cx="59.63" cy="585.91" r="1.55"/>
<circle cx="83.75" cy="572.45" r="1.55"/>
<circle cx="62.81" cy="587.53" r="1.55"/>
<circle cx="67.98" cy="578.67" r="1.55"/>
<circle cx="68.63" cy="583.14" r="1.55"/>
<circle cx="86.16" cy="568.24" r="1.55"/>
<circle cx="63.69" cy="589.31" r="1.55"/>
<circle cx="73.86" cy="577.66" r="1.55"/>
<circle cx="60.17" cy="581.49" r="1.55"/>
<circle cx="81.53" cy="569.78" r="1.55"/>
<circle cx="74.35" cy="578.20" r="1.55"/>
<circle cx="68.88" cy="576.85" r="1.55"/>
<circle cx="86.17" cy="574.40" r="1.55"/>
<circle cx="74.25" cy="576.61" r="1.55"/>
<circle cx="59.51" cy="625.63" r="1.55"/>
<circle cx="91.23" cy="612.18" r="1.55"/>
<circle cx="84.64" cy="616.70" r="1.55"/>
<circle cx="64.62" cy="613.37" r="1.55"/>
<circle cx="73.26" cy="620.59" r="1.55"/>
<circle cx="73.70" cy="618.04" r="1.55"/>
<circle cx="77.76" cy="606.43" r="1.55"/>
<circle cx="78.85" cy="612.57" r="1.55"/>
<circle cx="73.84" cy="614.71" r="1.55"/>
<circle cx="87.78" cy="607.99" r="1.55"/>
<circle cx="53.96" cy="607.24" r="1.55"/>
<circle cx="76.04" cy="608.78" r="1.55"/>
<circle cx="68.67" cy="614.93" r="1.55"/>
<circle cx="77.41" cy="612.64" r="1.55"/>
<circle cx="78.32" cy="611.36" r="1.55"/>
<circle cx="66.63" cy="618.50" r="1.55"/>
<circle cx="69.43" cy="619.98" r="1.55"/>
<circle cx="84.23" cy="612.88" r="1.55"/>
<circle cx="79.65" cy="617.91" r="1.55"/>
<circle cx="69.02" cy="615.74" r="1.55"/>
<circle cx="97.10" cy="610.68" r="1.55"/>
<circle cx="64.71" cy="611.79" r="1.55"/>
<circle cx="60.95" cy="620.41" r="1.55"/>
<circle cx="79.16" cy="614.42" r="1.55"/>
<circle cx="65.73" cy="616.35" r="1.55"/>
<circle cx="84.14" cy="611.23" r="1.55"/>
<circle cx="78.33" cy="609.51" r="1.55"/>
<circle cx="73.90" cy="616.83" r="1.55"/>
<circle cx="70.46" cy="618.80" r="1.55"/>
<circle cx="73.85" cy="621.80" r="1.55"/>
<circle cx="70.36" cy="619.27" r="1.55"/>
<circle cx="83.73" cy="610.86" r="1.55"/>
<circle cx="71.93" cy="614.83" r="1.55"/>
<circle cx="71.49" cy="619.47" r="1.55"/>
<circle cx="63.64" cy="617.93" r="1.55"/>
<circle cx="75.53" cy="614.32" r="1.55"/>
<circle cx="66.81" cy="613.65" r="1.55"/>
<circle cx="74.18" cy="617.23" r="1.55"/>
<circle cx="86.80" cy="613.78" r="1.55"/>
<circle cx="79.82" cy="621.64" r="1.55"/>
<circle cx="81.26" cy="618.54" r="1.55"/>
<circle cx="79.72" cy="606.82" r="1.55"/>
<circle cx="76.66" cy="623.73" r="1.55"/>
<circle cx="74.73" cy="616.04" r="1.55"/>
<circle cx="72.87" cy="613.93" r="1.55"/>
<circle cx="83.88" cy="614.77" r="1.55"/>
<circle cx="64.85" cy="619.62" r="1.55"/>
<circle cx="89.89" cy="612.48" r="1.55"/>
<circle cx="76.40" cy="614.35" r="1.55"/>
<circle cx="68.32" cy="615.94" r="1.55"/>
<circle cx="71.00" cy="623.27" r="1.55"/>
<circle cx="69.06" cy="616.11" r="1.55"/>
<circle cx="77.70" cy="617.81" r="1.55"/>
<circle cx="68.63" cy="617.90" r="1.55"/>
<circle cx="87.84" cy="611.56" r="1.55"/>
<circle cx="67.98" cy="612.87" r="1.55"/>
<circle cx="88.78" cy="614.02" r="1.55"/>
<circle cx="68.50" cy="617.70" r="1.55"/>
<circle cx="62.67" cy="595.87" r="1.55"/>
<circle cx="59.27" cy="605.15" r="1.55"/>
<circle cx="60.02" cy="601.11" r="1.55"/>
<circle cx="53.72" cy="604.90" r="1.55"/>
<circle cx="57.62" cy="603.24" r="1.55"/>
<circle cx="61.61" cy="587.39" r="1.55"/>
<circle cx="65.78" cy="594.22" r="1.55"/>
<circle cx="66.25" cy="605.29" r="1.55"/>
<circle cx="61.34" cy="591.52" r="1.55"/>
<circle cx="60.84" cy="587.67" r="1.55"/>
<circle cx="57.90" cy="597.94" r="1.55"/>
<circle cx="63.55" cy="599.94" r="1.55"/>
<circle cx="60.57" cy="597.80" r="1.55"/>
<circle cx="64.49" cy="593.86" r="1.55"/>
<circle cx="69.74" cy="591.61" r="1.55"/>
<circle cx="124.85" cy="596.29" r="1.55"/>
<circle cx="125.14" cy="588.67" r="1.55"/>
<circle cx="124.88" cy="587.69" r="1.55"/>
<circle cx="126.60" cy="593.55" r="1.55"/>
<circle cx="119.77" cy="585.80" r="1.55"/>
<circle cx="98.40" cy="592.43" r="1.55"/>
<circle cx="112.05" cy="594.68" r="1.55"/>
<circle cx="116.38" cy="588.97" r="1.55"/>
<circle cx="109.59" cy="585.90" r="1.55"/>
<circle cx="122.21" cy="593.19" r="1.55"/>
<circle cx="109.81" cy="588.19" r="1.55"/>
<circle cx="104.30" cy="590.38" r="1.55"/>
<circle cx="127.40" cy="575.26" r="1.55"/>
<circle cx="119.82" cy="593.57" r="1.55"/>
<circle cx="115.46" cy="582.72" r="1.55"/>
<circle cx="122.36" cy="590.17" r="1.55"/>
<circle cx="123.68" cy="590.56" r="1.55"/>
<circle cx="116.65" cy="586.16" r="1.55"/>
<circle cx="89.36" cy="585.27" r="1.55"/>
<circle cx="106.74" cy="583.33" r="1.55"/>
<circle cx="108.87" cy="588.20" r="1.55"/>
<circle cx="103.73" cy="593.01" r="1.55"/>
<circle cx="115.26" cy="592.69" r="1.55"/>
<circle cx="124.95" cy="587.26" r="1.55"/>
<circle cx="108.59" cy="586.89" r="1.55"/>
<circle cx="102.26" cy="582.65" r="1.55"/>
<circle cx="133.09" cy="587.73" r="1.55"/>
<circle cx="108.92" cy="584.40" r="1.55"/>
<circle cx="116.19" cy="599.40" r="1.55"/>
<circle cx="101.28" cy="595.95" r="1.55"/>
<circle cx="104.72" cy="579.24" r="1.55"/>
<circle cx="100.71" cy="581.84" r="1.55"/>
<circle cx="128.81" cy="578.67" r="1.55"/>
<circle cx="127.66" cy="584.72" r="1.55"/>
<rect x="35.9" y="532.3" width="114.69999999999999" height="115.20000000000005" fill="none" stroke="#333" stroke-width="1.1"/>
<line x1="33.9" x2="35.9" y1="532.30" y2="532.30" stroke="#333" stroke-width="0.8"/>
<text x="33.6" y="534.00" class="tk" text-anchor="end">20</text>
<line x1="33.9" x2="35.9" y1="561.10" y2="561.10" stroke="#333" stroke-width="0.8"/>
<text x="33.6" y="562.80" class="tk" text-anchor="end">10</text>
<line x1="33.9" x2="35.9" y1="589.90" y2="589.90" stroke="#333" stroke-width="0.8"/>
<text x="33.6" y="591.60" class="tk" text-anchor="end">0</text>
<line x1="33.9" x2="35.9" y1="618.70" y2="618.70" stroke="#333" stroke-width="0.8"/>
<text x="33.6" y="620.40" class="tk" text-anchor="end">-10</text>
<line x1="33.9" x2="35.9" y1="647.50" y2="647.50" stroke="#333" stroke-width="0.8"/>
<text x="33.6" y="649.20" class="tk" text-anchor="end">-20</text>
<line x1="35.90" x2="35.90" y1="647.5" y2="649.5" stroke="#333" stroke-width="0.8"/>
<text x="35.90" y="654.00" class="tk" text-anchor="middle">-1.0</text>
<line x1="64.57" x2="64.57" y1="647.5" y2="649.5" stroke="#333" stroke-width="0.8"/>
<text x="64.57" y="654.00" class="tk" text-anchor="middle">-0.5</text>
<line x1="93.25" x2="93.25" y1="647.5" y2="649.5" stroke="#333" stroke-width="0.8"/>
<text x="93.25" y="654.00" class="tk" text-anchor="middle">0.0</text>
<line x1="121.92" x2="121.92" y1="647.5" y2="649.5" stroke="#333" stroke-width="0.8"/>
<text x="121.92" y="654.00" class="tk" text-anchor="middle">0.5</text>
<line x1="150.60" x2="150.60" y1="647.5" y2="649.5" stroke="#333" stroke-width="0.8"/>
<text x="150.60" y="654.00" class="tk" text-anchor="middle">1.0</text>
<text x="36.3" y="357.9" class="tt">r=0.59, <tspan font-style="italic">P</tspan>&lt;2x10<tspan dy="-5.6" font-size="8.8">-16</tspan></text>
<text x="35.0" y="527.8" class="tt">r=0.76, <tspan font-style="italic">P</tspan>&lt;2x10<tspan dy="-5.6" font-size="8.8">-16</tspan></text>
<text transform="translate(23.2,419.0) rotate(-90) scale(1.07,1)" class="al2" text-anchor="middle">consensus blue kME</text>
<text transform="translate(22.4,591.0) rotate(-90) scale(1.07,1)" class="al2" text-anchor="middle">consensus blue kME</text>
<text x="94.3" y="503.2" class="al" text-anchor="middle">GS.LN CLL</text>
<text x="94.0" y="675.0" class="al" text-anchor="middle">GS.anti-IgM</text>
<text x="94.0" y="689.7" class="al" text-anchor="middle">(390min)</text>
<text x="191.4" y="344.4" class="big" style="font-size:18.2px">C</text>
<rect x="195.4" y="353.5" width="77.00" height="72.40" fill="#fdbf6f" stroke="#a8733a" stroke-width="0.9"/>
<rect x="272.4" y="353.5" width="55.30" height="72.40" fill="#fdbf6f" stroke="#a8733a" stroke-width="0.9"/>
<rect x="327.7" y="353.5" width="47.70" height="72.40" fill="#fdbf6f" stroke="#a8733a" stroke-width="0.9"/>
<rect x="375.4" y="353.5" width="43.60" height="72.40" fill="#fdbf6f" stroke="#a8733a" stroke-width="0.9"/>
<rect x="195.4" y="425.9" width="57.90" height="54.70" fill="#fdbf6f" stroke="#a8733a" stroke-width="0.9"/>
<rect x="195.4" y="480.6" width="57.90" height="52.50" fill="#fdbf6f" stroke="#a8733a" stroke-width="0.9"/>
<rect x="195.4" y="533.1" width="57.90" height="47.10" fill="#fdbf6f" stroke="#a8733a" stroke-width="0.9"/>
<rect x="253.3" y="425.9" width="51.10" height="51.40" fill="#fdbf6f" stroke="#a8733a" stroke-width="0.9"/>
<rect x="253.3" y="477.3" width="51.10" height="51.70" fill="#fdbf6f" stroke="#a8733a" stroke-width="0.9"/>
<rect x="253.3" y="529.0" width="51.10" height="51.20" fill="#fdbf6f" stroke="#a8733a" stroke-width="0.9"/>
<rect x="304.4" y="425.9" width="57.00" height="45.30" fill="#fdbf6f" stroke="#a8733a" stroke-width="0.9"/>
<rect x="361.4" y="425.9" width="57.60" height="45.30" fill="#fdbf6f" stroke="#a8733a" stroke-width="0.9"/>
<rect x="304.4" y="471.2" width="46.50" height="53.80" fill="#fdbf6f" stroke="#a8733a" stroke-width="0.9"/>
<rect x="304.4" y="525.0" width="46.50" height="55.20" fill="#fdbf6f" stroke="#a8733a" stroke-width="0.9"/>
<rect x="350.9" y="471.2" width="68.10" height="36.80" fill="#fdbf6f" stroke="#a8733a" stroke-width="0.9"/>
<rect x="350.9" y="508.0" width="68.10" height="37.20" fill="#fdbf6f" stroke="#a8733a" stroke-width="0.9"/>
<rect x="350.9" y="545.2" width="68.10" height="35.00" fill="#fdbf6f" stroke="#a8733a" stroke-width="0.9"/>
<rect x="419.0" y="353.5" width="100.00" height="59.60" fill="#1f78b4" stroke="#134e78" stroke-width="0.9"/>
<rect x="419.0" y="413.1" width="65.00" height="90.30" fill="#1f78b4" stroke="#134e78" stroke-width="0.9"/>
<rect x="484.0" y="413.1" width="35.00" height="90.30" fill="#1f78b4" stroke="#134e78" stroke-width="0.9"/>
<rect x="419.0" y="503.4" width="66.10" height="38.70" fill="#1f78b4" stroke="#134e78" stroke-width="0.9"/>
<rect x="419.0" y="542.1" width="66.10" height="38.10" fill="#1f78b4" stroke="#134e78" stroke-width="0.9"/>
<rect x="485.1" y="503.4" width="33.90" height="76.80" fill="#1f78b4" stroke="#134e78" stroke-width="0.9"/>
<rect x="195.4" y="580.2" width="90.60" height="61.10" fill="#a6cee3" stroke="#5b7f95" stroke-width="0.9"/>
<rect x="195.4" y="641.3" width="90.60" height="44.90" fill="#a6cee3" stroke="#5b7f95" stroke-width="0.9"/>
<rect x="286.0" y="580.2" width="29.50" height="106.00" fill="#a6cee3" stroke="#5b7f95" stroke-width="0.9"/>
<rect x="315.5" y="580.2" width="47.20" height="54.00" fill="#fb9a99" stroke="#b86a6a" stroke-width="0.9"/>
<rect x="362.7" y="580.2" width="46.80" height="54.00" fill="#fb9a99" stroke="#b86a6a" stroke-width="0.9"/>
<rect x="315.5" y="634.2" width="47.20" height="52.00" fill="#fb9a99" stroke="#b86a6a" stroke-width="0.9"/>
<rect x="362.7" y="634.2" width="46.80" height="52.00" fill="#fb9a99" stroke="#b86a6a" stroke-width="0.9"/>
<rect x="409.5" y="580.2" width="47.70" height="67.10" fill="#b2df8a" stroke="#6f8f55" stroke-width="0.9"/>
<rect x="457.2" y="580.2" width="37.50" height="67.10" fill="#b2df8a" stroke="#6f8f55" stroke-width="0.9"/>
<rect x="409.5" y="647.3" width="85.20" height="38.90" fill="#33a02c" stroke="#33a02c" stroke-width="0.9"/>
<rect x="494.7" y="580.2" width="24.30" height="106.00" fill="#e31a1c" stroke="#e31a1c" stroke-width="0.9"/>
<text x="233.90" y="392.74" class="tm" font-size="7.6" style="fill:#2b2010;stroke:#2b2010">translation</text>
<text x="300.05" y="387.05" class="tm" font-size="7.35" style="fill:#2b2010;stroke:#2b2010">DNA metabolic</text>
<text x="300.05" y="399.05" class="tm" font-size="7.35" style="fill:#2b2010;stroke:#2b2010">process</text>
<text x="351.55" y="370.60" class="tm" font-size="7.5" style="fill:#2b2010;stroke:#2b2010">regulation</text>
<text x="351.55" y="382.00" class="tm" font-size="7.5" style="fill:#2b2010;stroke:#2b2010">of cellular</text>
<text x="351.55" y="393.40" class="tm" font-size="7.5" style="fill:#2b2010;stroke:#2b2010">protein</text>
<text x="351.55" y="404.80" class="tm" font-size="7.5" style="fill:#2b2010;stroke:#2b2010">metabolic</text>
<text x="351.55" y="416.20" class="tm" font-size="7.5" style="fill:#2b2010;stroke:#2b2010">process</text>
<text x="397.20" y="376.09" class="tm" font-size="7.6" style="fill:#2b2010;stroke:#2b2010">'de novo'</text>
<text x="397.20" y="387.59" class="tm" font-size="7.6" style="fill:#2b2010;stroke:#2b2010">IMP</text>
<text x="397.20" y="399.09" class="tm" font-size="7.6" style="fill:#2b2010;stroke:#2b2010">biosynthetic</text>
<text x="397.20" y="410.59" class="tm" font-size="7.6" style="fill:#2b2010;stroke:#2b2010">process</text>
<text x="224.35" y="450.91" class="tm" font-size="7.4" style="fill:#2b2010;stroke:#2b2010">DNA</text>
<text x="224.35" y="462.41" class="tm" font-size="7.4" style="fill:#2b2010;stroke:#2b2010">recombination</text>
<text x="224.35" y="499.47" class="tm" font-size="7.7" style="fill:#2b2010;stroke:#2b2010">regulation of</text>
<text x="224.35" y="510.67" class="tm" font-size="7.7" style="fill:#2b2010;stroke:#2b2010">oxidative</text>
<text x="224.35" y="521.87" class="tm" font-size="7.7" style="fill:#2b2010;stroke:#2b2010">phosphorylation</text>
<text x="224.35" y="543.00" class="tm" font-size="7.65" style="fill:#2b2010;stroke:#2b2010">nucleoside</text>
<text x="224.35" y="554.50" class="tm" font-size="7.65" style="fill:#2b2010;stroke:#2b2010">monophosphate</text>
<text x="224.35" y="566.00" class="tm" font-size="7.65" style="fill:#2b2010;stroke:#2b2010">metabolic</text>
<text x="224.35" y="577.50" class="tm" font-size="7.65" style="fill:#2b2010;stroke:#2b2010">process</text>
<text x="278.85" y="438.29" class="tm" font-size="7.6" style="fill:#2b2010;stroke:#2b2010">purine</text>
<text x="278.85" y="449.79" class="tm" font-size="7.6" style="fill:#2b2010;stroke:#2b2010">nucleobase</text>
<text x="278.85" y="461.29" class="tm" font-size="7.6" style="fill:#2b2010;stroke:#2b2010">metabolic</text>
<text x="278.85" y="472.79" class="tm" font-size="7.6" style="fill:#2b2010;stroke:#2b2010">process</text>
<text x="278.85" y="495.65" class="tm" font-size="6.8" style="fill:#2b2010;stroke:#2b2010">tetrahydrofolate</text>
<text x="278.85" y="506.55" class="tm" font-size="6.8" style="fill:#2b2010;stroke:#2b2010">metabolic</text>
<text x="278.85" y="517.45" class="tm" font-size="6.8" style="fill:#2b2010;stroke:#2b2010">process</text>
<text x="278.85" y="552.50" class="tm" font-size="7.5" style="fill:#2b2010;stroke:#2b2010">mRNA 3'-end</text>
<text x="278.85" y="564.10" class="tm" font-size="7.5" style="fill:#2b2010;stroke:#2b2010">processing</text>
<text x="332.90" y="440.20" class="tm" font-size="7.5" style="fill:#2b2010;stroke:#2b2010">nucleobase</text>
<text x="332.90" y="451.90" class="tm" font-size="7.5" style="fill:#2b2010;stroke:#2b2010">metabolic</text>
<text x="332.90" y="463.60" class="tm" font-size="7.5" style="fill:#2b2010;stroke:#2b2010">process</text>
<text x="390.20" y="440.20" class="tm" font-size="7.5" style="fill:#2b2010;stroke:#2b2010">nucleoside</text>
<text x="390.20" y="451.90" class="tm" font-size="7.5" style="fill:#2b2010;stroke:#2b2010">biosynthetic</text>
<text x="390.20" y="463.60" class="tm" font-size="7.5" style="fill:#2b2010;stroke:#2b2010">process</text>
<text x="327.65" y="501.15" class="tm" font-size="6.25" style="fill:#2b2010;stroke:#2b2010">phosphorylation</text>
<text x="327.65" y="536.53" class="tm" font-size="6.2" style="fill:#2b2010;stroke:#2b2010">purine</text>
<text x="327.65" y="546.33" class="tm" font-size="6.2" style="fill:#2b2010;stroke:#2b2010">ribonucleoside</text>
<text x="327.65" y="556.13" class="tm" font-size="6.2" style="fill:#2b2010;stroke:#2b2010">monophosphate</text>
<text x="327.65" y="565.93" class="tm" font-size="6.2" style="fill:#2b2010;stroke:#2b2010">biosynthetic</text>
<text x="327.65" y="575.73" class="tm" font-size="6.2" style="fill:#2b2010;stroke:#2b2010">process</text>
<text x="384.95" y="480.58" class="tm" font-size="7.45" style="fill:#2b2010;stroke:#2b2010">termination of</text>
<text x="384.95" y="492.08" class="tm" font-size="7.45" style="fill:#2b2010;stroke:#2b2010">RNA polymerase II</text>
<text x="384.95" y="503.58" class="tm" font-size="7.45" style="fill:#2b2010;stroke:#2b2010">transcription</text>
<text x="384.95" y="529.62" class="tm" font-size="7.55" style="fill:#2b2010;stroke:#2b2010">RNA processing</text>
<text x="384.95" y="560.00" class="tm" font-size="7.5" style="fill:#2b2010;stroke:#2b2010">inactivation of</text>
<text x="384.95" y="571.60" class="tm" font-size="7.5" style="fill:#2b2010;stroke:#2b2010">MAPK activity</text>
<text x="469.00" y="381.50" class="tw" font-size="7.5">cellular response to</text>
<text x="469.00" y="392.50" class="tw" font-size="7.5">DNA damage stimulus</text>
<text x="451.50" y="456.57" class="tw" font-size="7.55">cellular response</text>
<text x="451.50" y="467.87" class="tw" font-size="7.55">to stress</text>
<text x="501.50" y="452.06" class="tw" font-size="6.0">response to</text>
<text x="501.50" y="461.06" class="tw" font-size="6.0">extracellular</text>
<text x="501.50" y="470.06" class="tw" font-size="6.0">stimulus</text>
<text x="452.05" y="520.92" class="tw" font-size="7.55">ER-nucleus</text>
<text x="452.05" y="532.12" class="tw" font-size="7.55">signaling pathway</text>
<text x="452.05" y="559.62" class="tw" font-size="7.55">ER overload</text>
<text x="452.05" y="570.62" class="tw" font-size="7.55">response</text>
<text x="502.05" y="537.01" class="tw" font-size="5.3">cellular</text>
<text x="502.05" y="545.01" class="tw" font-size="5.3">response to</text>
<text x="502.05" y="553.01" class="tw" font-size="5.3">interleukin-4</text>
<text x="240.70" y="614.44" class="tm" font-size="7.6" style="fill:#243642;stroke:#243642">cell cycle</text>
<text x="240.70" y="667.35" class="tm" font-size="7.65" style="fill:#243642;stroke:#243642">regulation of cell cycle</text>
<text x="300.75" y="631.27" class="tm" font-size="6.85" style="fill:#243642;stroke:#243642">apoptotic</text>
<text x="300.75" y="642.07" class="tm" font-size="6.85" style="fill:#243642;stroke:#243642">process</text>
<text x="339.10" y="605.47" class="tm" font-size="7.55" style="fill:#2a1515;stroke:#2a1515">nuclear</text>
<text x="339.10" y="616.97" class="tm" font-size="7.55" style="fill:#2a1515;stroke:#2a1515">transport</text>
<text x="386.10" y="599.82" class="tm" font-size="7.55" style="fill:#2a1515;stroke:#2a1515">neutral</text>
<text x="386.10" y="611.32" class="tm" font-size="7.55" style="fill:#2a1515;stroke:#2a1515">amino acid</text>
<text x="386.10" y="622.82" class="tm" font-size="7.55" style="fill:#2a1515;stroke:#2a1515">transport</text>
<text x="339.10" y="658.64" class="tm" font-size="7.6" style="fill:#2a1515;stroke:#2a1515">mitochondrial</text>
<text x="339.10" y="669.64" class="tm" font-size="7.6" style="fill:#2a1515;stroke:#2a1515">transport</text>
<text x="386.10" y="658.62" class="tm" font-size="7.55" style="fill:#2a1515;stroke:#2a1515">nuclear</text>
<text x="386.10" y="669.62" class="tm" font-size="7.55" style="fill:#2a1515;stroke:#2a1515">export</text>
<text x="433.35" y="611.83" class="tm" font-size="7.45" style="fill:#1a2a10;stroke:#1a2a10">endoderm</text>
<text x="433.35" y="622.93" class="tm" font-size="7.45" style="fill:#1a2a10;stroke:#1a2a10">formation</text>
<text x="475.95" y="611.85" class="tm" font-size="6.1" style="fill:#1a2a10;stroke:#1a2a10">leukocyte</text>
<text x="475.95" y="621.75" class="tm" font-size="6.1" style="fill:#1a2a10;stroke:#1a2a10">differentiation</text>
<text x="506.85" y="623.71" class="tw" font-size="5.3">response</text>
<text x="506.85" y="632.11" class="tw" font-size="5.3">to</text>
<text x="506.85" y="640.51" class="tw" font-size="5.3">gamma</text>
<text x="506.85" y="648.91" class="tw" font-size="5.3">radiation</text>
<rect x="195.4" y="353.5" width="223.60" height="226.70" fill="none" stroke="#1a1a1a" stroke-width="1.3"/>
<rect x="419.0" y="353.5" width="100.00" height="226.70" fill="none" stroke="#1a1a1a" stroke-width="1.3"/>
<rect x="195.4" y="580.2" width="120.10" height="106.00" fill="none" stroke="#1a1a1a" stroke-width="1.3"/>
<rect x="315.5" y="580.2" width="94.00" height="106.00" fill="none" stroke="#1a1a1a" stroke-width="1.3"/>
<rect x="409.5" y="580.2" width="85.20" height="67.10" fill="none" stroke="#1a1a1a" stroke-width="1.3"/>
<rect x="409.5" y="647.3" width="85.20" height="38.90" fill="none" stroke="#1a1a1a" stroke-width="1.3"/>
<rect x="494.7" y="580.2" width="24.30" height="106.00" fill="none" stroke="#1a1a1a" stroke-width="1.3"/>
<rect x="195.4" y="353.5" width="323.6" height="332.7" fill="none" stroke="#1a1a1a" stroke-width="1.6"/>
<text x="307.2" y="362.33" class="gh" font-size="7.3" fill="#2a1a00" style="fill:#2a1a00">Translation</text>
<text x="469.0" y="361.88" class="gh" font-size="6.9" fill="#0a1530" style="fill:#0a1530">Cellular response to stress</text>
<text x="255.5" y="589.44" class="gh" font-size="7.6" fill="#10202a" style="fill:#10202a">Cell cycle</text>
<text x="362.3" y="589.37" class="gh" font-size="7.7" fill="#2a1010" style="fill:#2a1010">Nuclear transport</text>
<text x="452.1" y="589.30" class="gh" font-size="7.5" fill="#102a10" style="fill:#102a10">Endoderm formation</text>
<text x="452.1" y="655.84" class="gh" font-size="7.6" style="fill:#0f2a0f">Mitochondrion</text>
<text x="452.1" y="667.84" class="gh" font-size="7.6" style="fill:#0f2a0f">organization</text>
<text x="506.8" y="586.90" class="gh" font-size="3.7" style="fill:#6a0000">response</text>
<text x="506.8" y="591.60" class="gh" font-size="3.7" style="fill:#6a0000">to gamma</text>
<text x="506.8" y="597.30" class="gh" font-size="3.7" style="fill:#6a0000">radiation</text>
</svg>
</body></html>
